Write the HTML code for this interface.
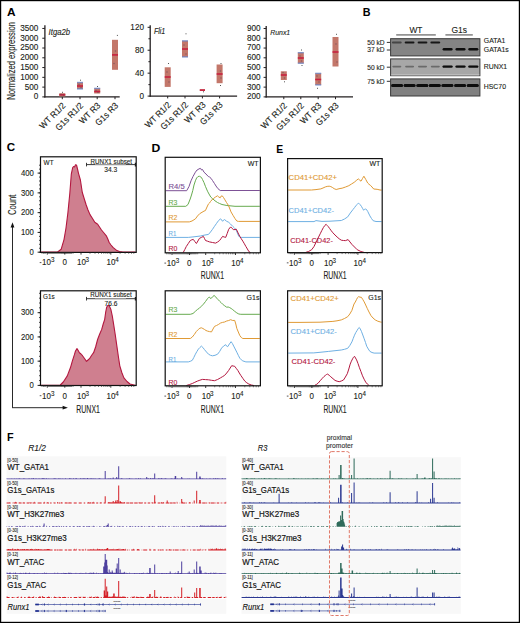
<!DOCTYPE html>
<html><head><meta charset="utf-8"><style>
html,body{margin:0;padding:0;background:#fff;}
svg{display:block;}
text{font-family:"Liberation Sans", sans-serif;}
</style></head><body>
<svg width="520" height="623" viewBox="0 0 520 623">
<defs><filter id="bl" x="-20%" y="-100%" width="140%" height="300%"><feGaussianBlur stdDeviation="0.45"/></filter></defs>
<rect width="520" height="623" fill="#fff"/>
<rect x="0.00" y="0.00" width="520.00" height="1.20" fill="#000"/>
<rect x="0.00" y="0.00" width="1.20" height="623.00" fill="#000"/>
<rect x="518.80" y="0.00" width="1.20" height="623.00" fill="#000"/>
<rect x="0.00" y="621.80" width="520.00" height="1.20" fill="#000"/>
<text x="7.00" y="16.20" font-size="11.8" fill="#000" font-weight="bold" textLength="8.60" lengthAdjust="spacingAndGlyphs">A</text>
<text x="15.50" y="60.80" font-size="10.2" text-anchor="middle" fill="#231f20" stroke="#231f20" stroke-width="0.12" textLength="77.80" lengthAdjust="spacingAndGlyphs" transform="rotate(-90 15.50 60.80)">Normalized expression</text>
<line x1="44.90" y1="25.20" x2="44.90" y2="97.50" stroke="#231f20" stroke-width="1.3"/>
<line x1="44.30" y1="96.90" x2="119.70" y2="96.90" stroke="#231f20" stroke-width="1.2"/>
<line x1="42.30" y1="96.90" x2="44.90" y2="96.90" stroke="#231f20" stroke-width="1"/>
<text x="38.40" y="99.34" font-size="8.2" text-anchor="end" fill="#231f20" stroke="#231f20" stroke-width="0.12">0</text>
<line x1="42.30" y1="87.12" x2="44.90" y2="87.12" stroke="#231f20" stroke-width="1"/>
<text x="38.40" y="89.56" font-size="8.2" text-anchor="end" fill="#231f20" stroke="#231f20" stroke-width="0.12">500</text>
<line x1="42.30" y1="77.34" x2="44.90" y2="77.34" stroke="#231f20" stroke-width="1"/>
<text x="38.40" y="79.78" font-size="8.2" text-anchor="end" fill="#231f20" stroke="#231f20" stroke-width="0.12">1000</text>
<line x1="42.30" y1="67.56" x2="44.90" y2="67.56" stroke="#231f20" stroke-width="1"/>
<text x="38.40" y="70.00" font-size="8.2" text-anchor="end" fill="#231f20" stroke="#231f20" stroke-width="0.12">1500</text>
<line x1="42.30" y1="57.79" x2="44.90" y2="57.79" stroke="#231f20" stroke-width="1"/>
<text x="38.40" y="60.22" font-size="8.2" text-anchor="end" fill="#231f20" stroke="#231f20" stroke-width="0.12">2000</text>
<line x1="42.30" y1="48.01" x2="44.90" y2="48.01" stroke="#231f20" stroke-width="1"/>
<text x="38.40" y="50.44" font-size="8.2" text-anchor="end" fill="#231f20" stroke="#231f20" stroke-width="0.12">2500</text>
<line x1="42.30" y1="38.23" x2="44.90" y2="38.23" stroke="#231f20" stroke-width="1"/>
<text x="38.40" y="40.66" font-size="8.2" text-anchor="end" fill="#231f20" stroke="#231f20" stroke-width="0.12">3000</text>
<line x1="42.30" y1="28.45" x2="44.90" y2="28.45" stroke="#231f20" stroke-width="1"/>
<text x="38.40" y="30.89" font-size="8.2" text-anchor="end" fill="#231f20" stroke="#231f20" stroke-width="0.12">3500</text>
<line x1="62.30" y1="96.90" x2="62.30" y2="99.20" stroke="#231f20" stroke-width="1"/>
<text x="66.10" y="106.30" font-size="8.9" text-anchor="end" fill="#231f20" stroke="#231f20" stroke-width="0.12" textLength="32.70" lengthAdjust="spacingAndGlyphs" transform="rotate(-45 66.10 106.30)">WT R1/2</text>
<line x1="80.00" y1="96.90" x2="80.00" y2="99.20" stroke="#231f20" stroke-width="1"/>
<text x="83.80" y="106.30" font-size="8.9" text-anchor="end" fill="#231f20" stroke="#231f20" stroke-width="0.12" textLength="35.10" lengthAdjust="spacingAndGlyphs" transform="rotate(-45 83.80 106.30)">G1s R1/2</text>
<line x1="97.20" y1="96.90" x2="97.20" y2="99.20" stroke="#231f20" stroke-width="1"/>
<text x="101.00" y="106.30" font-size="8.9" text-anchor="end" fill="#231f20" stroke="#231f20" stroke-width="0.12" textLength="25.70" lengthAdjust="spacingAndGlyphs" transform="rotate(-45 101.00 106.30)">WT R3</text>
<line x1="115.00" y1="96.90" x2="115.00" y2="99.20" stroke="#231f20" stroke-width="1"/>
<text x="118.80" y="106.30" font-size="8.9" text-anchor="end" fill="#231f20" stroke="#231f20" stroke-width="0.12" textLength="28.20" lengthAdjust="spacingAndGlyphs" transform="rotate(-45 118.80 106.30)">G1s R3</text>
<text x="48.60" y="35.10" font-size="8.4" fill="#231f20" stroke="#231f20" stroke-width="0.12" font-style="italic" textLength="21.50" lengthAdjust="spacingAndGlyphs">Itga2b</text>
<rect x="59.30" y="93.20" width="6.00" height="3.20" fill="#c3776a"/>
<rect x="59.30" y="94.00" width="6.00" height="1.60" fill="#c8213f"/>
<rect x="62.00" y="91.80" width="1.00" height="1.00" fill="#555"/>
<rect x="60.40" y="93.90" width="1.20" height="1.20" fill="#6a4a5a" opacity="0.7"/>
<rect x="62.90" y="94.60" width="1.20" height="1.20" fill="#6a4a5a" opacity="0.7"/>
<rect x="77.00" y="82.40" width="6.00" height="6.60" fill="#c3776a"/>
<rect x="77.00" y="81.80" width="6.00" height="1.40" fill="#6a86c6" opacity="0.8"/>
<rect x="77.00" y="88.20" width="6.00" height="1.40" fill="#6a86c6" opacity="0.8"/>
<rect x="77.00" y="85.20" width="6.00" height="1.60" fill="#c8213f"/>
<rect x="80.00" y="79.70" width="1.00" height="1.00" fill="#555"/>
<rect x="78.40" y="83.90" width="1.20" height="1.20" fill="#6a4a5a" opacity="0.7"/>
<rect x="80.40" y="86.90" width="1.20" height="1.20" fill="#6a4a5a" opacity="0.7"/>
<rect x="94.20" y="88.30" width="6.00" height="5.20" fill="#c3776a"/>
<rect x="94.20" y="87.70" width="6.00" height="1.40" fill="#6a86c6" opacity="0.8"/>
<rect x="94.20" y="90.70" width="6.00" height="1.60" fill="#c8213f"/>
<rect x="97.00" y="86.00" width="1.00" height="1.00" fill="#555"/>
<rect x="95.40" y="89.90" width="1.20" height="1.20" fill="#6a4a5a" opacity="0.7"/>
<rect x="97.40" y="91.90" width="1.20" height="1.20" fill="#6a4a5a" opacity="0.7"/>
<rect x="112.00" y="39.80" width="6.00" height="30.00" fill="#c3776a"/>
<rect x="112.00" y="54.10" width="6.00" height="1.60" fill="#c8213f"/>
<rect x="116.90" y="34.90" width="1.00" height="1.00" fill="#555"/>
<rect x="114.90" y="50.40" width="1.20" height="1.20" fill="#6a4a5a" opacity="0.7"/>
<rect x="113.40" y="62.90" width="1.20" height="1.20" fill="#6a4a5a" opacity="0.7"/>
<line x1="150.20" y1="25.20" x2="150.20" y2="96.70" stroke="#231f20" stroke-width="1.3"/>
<line x1="149.60" y1="96.10" x2="237.10" y2="96.10" stroke="#231f20" stroke-width="1.2"/>
<line x1="147.60" y1="96.10" x2="150.20" y2="96.10" stroke="#231f20" stroke-width="1"/>
<text x="144.00" y="98.54" font-size="8.2" text-anchor="end" fill="#231f20" stroke="#231f20" stroke-width="0.12">0</text>
<line x1="147.60" y1="73.17" x2="150.20" y2="73.17" stroke="#231f20" stroke-width="1"/>
<text x="144.00" y="75.60" font-size="8.2" text-anchor="end" fill="#231f20" stroke="#231f20" stroke-width="0.12">40</text>
<line x1="147.60" y1="50.23" x2="150.20" y2="50.23" stroke="#231f20" stroke-width="1"/>
<text x="144.00" y="52.67" font-size="8.2" text-anchor="end" fill="#231f20" stroke="#231f20" stroke-width="0.12">80</text>
<line x1="147.60" y1="27.30" x2="150.20" y2="27.30" stroke="#231f20" stroke-width="1"/>
<text x="144.00" y="29.74" font-size="8.2" text-anchor="end" fill="#231f20" stroke="#231f20" stroke-width="0.12">120</text>
<line x1="148.40" y1="84.63" x2="150.20" y2="84.63" stroke="#231f20" stroke-width="1"/>
<line x1="148.40" y1="61.70" x2="150.20" y2="61.70" stroke="#231f20" stroke-width="1"/>
<line x1="148.40" y1="38.77" x2="150.20" y2="38.77" stroke="#231f20" stroke-width="1"/>
<line x1="167.70" y1="96.10" x2="167.70" y2="98.40" stroke="#231f20" stroke-width="1"/>
<text x="171.50" y="105.50" font-size="8.9" text-anchor="end" fill="#231f20" stroke="#231f20" stroke-width="0.12" textLength="32.70" lengthAdjust="spacingAndGlyphs" transform="rotate(-45 171.50 105.50)">WT R1/2</text>
<line x1="185.00" y1="96.10" x2="185.00" y2="98.40" stroke="#231f20" stroke-width="1"/>
<text x="188.80" y="105.50" font-size="8.9" text-anchor="end" fill="#231f20" stroke="#231f20" stroke-width="0.12" textLength="35.10" lengthAdjust="spacingAndGlyphs" transform="rotate(-45 188.80 105.50)">G1s R1/2</text>
<line x1="202.40" y1="96.10" x2="202.40" y2="98.40" stroke="#231f20" stroke-width="1"/>
<text x="206.20" y="105.50" font-size="8.9" text-anchor="end" fill="#231f20" stroke="#231f20" stroke-width="0.12" textLength="25.70" lengthAdjust="spacingAndGlyphs" transform="rotate(-45 206.20 105.50)">WT R3</text>
<line x1="219.60" y1="96.10" x2="219.60" y2="98.40" stroke="#231f20" stroke-width="1"/>
<text x="223.40" y="105.50" font-size="8.9" text-anchor="end" fill="#231f20" stroke="#231f20" stroke-width="0.12" textLength="28.20" lengthAdjust="spacingAndGlyphs" transform="rotate(-45 223.40 105.50)">G1s R3</text>
<text x="153.90" y="33.90" font-size="8.2" fill="#231f20" stroke="#231f20" stroke-width="0.12" font-style="italic" textLength="11.40" lengthAdjust="spacingAndGlyphs">Fli1</text>
<rect x="164.70" y="67.30" width="6.00" height="19.60" fill="#c3776a"/>
<rect x="164.70" y="76.20" width="6.00" height="1.60" fill="#c8213f"/>
<rect x="168.00" y="63.00" width="1.00" height="1.00" fill="#555"/>
<rect x="166.40" y="71.40" width="1.20" height="1.20" fill="#6a4a5a" opacity="0.7"/>
<rect x="168.40" y="81.40" width="1.20" height="1.20" fill="#6a4a5a" opacity="0.7"/>
<rect x="182.00" y="40.80" width="6.00" height="16.20" fill="#c3776a"/>
<rect x="182.00" y="40.20" width="6.00" height="1.40" fill="#6a86c6" opacity="0.8"/>
<rect x="182.00" y="56.20" width="6.00" height="1.40" fill="#6a86c6" opacity="0.8"/>
<rect x="182.00" y="48.20" width="6.00" height="1.60" fill="#c8213f"/>
<rect x="185.50" y="33.30" width="1.00" height="1.00" fill="#555"/>
<rect x="183.40" y="44.40" width="1.20" height="1.20" fill="#6a4a5a" opacity="0.7"/>
<rect x="185.40" y="53.40" width="1.20" height="1.20" fill="#6a4a5a" opacity="0.7"/>
<rect x="199.80" y="89.30" width="5.20" height="1.60" fill="#c3776a"/>
<rect x="199.80" y="89.30" width="5.20" height="1.60" fill="#c8213f"/>
<rect x="203.00" y="91.30" width="1.00" height="1.00" fill="#555"/>
<rect x="216.60" y="64.50" width="6.00" height="18.70" fill="#c3776a"/>
<rect x="216.60" y="73.20" width="6.00" height="1.60" fill="#c8213f"/>
<rect x="220.00" y="85.00" width="1.00" height="1.00" fill="#555"/>
<rect x="220.50" y="63.00" width="1.00" height="1.00" fill="#555"/>
<rect x="219.90" y="70.40" width="1.20" height="1.20" fill="#6a4a5a" opacity="0.7"/>
<rect x="220.40" y="77.40" width="1.20" height="1.20" fill="#6a4a5a" opacity="0.7"/>
<line x1="266.20" y1="26.00" x2="266.20" y2="97.50" stroke="#231f20" stroke-width="1.3"/>
<line x1="265.60" y1="96.90" x2="353.00" y2="96.90" stroke="#231f20" stroke-width="1.2"/>
<line x1="263.60" y1="96.90" x2="266.20" y2="96.90" stroke="#231f20" stroke-width="1"/>
<text x="260.70" y="99.34" font-size="8.2" text-anchor="end" fill="#231f20" stroke="#231f20" stroke-width="0.12">200</text>
<line x1="263.60" y1="87.13" x2="266.20" y2="87.13" stroke="#231f20" stroke-width="1"/>
<text x="260.70" y="89.56" font-size="8.2" text-anchor="end" fill="#231f20" stroke="#231f20" stroke-width="0.12">300</text>
<line x1="263.60" y1="77.36" x2="266.20" y2="77.36" stroke="#231f20" stroke-width="1"/>
<text x="260.70" y="79.79" font-size="8.2" text-anchor="end" fill="#231f20" stroke="#231f20" stroke-width="0.12">400</text>
<line x1="263.60" y1="67.59" x2="266.20" y2="67.59" stroke="#231f20" stroke-width="1"/>
<text x="260.70" y="70.02" font-size="8.2" text-anchor="end" fill="#231f20" stroke="#231f20" stroke-width="0.12">500</text>
<line x1="263.60" y1="57.81" x2="266.20" y2="57.81" stroke="#231f20" stroke-width="1"/>
<text x="260.70" y="60.25" font-size="8.2" text-anchor="end" fill="#231f20" stroke="#231f20" stroke-width="0.12">600</text>
<line x1="263.60" y1="48.04" x2="266.20" y2="48.04" stroke="#231f20" stroke-width="1"/>
<text x="260.70" y="50.48" font-size="8.2" text-anchor="end" fill="#231f20" stroke="#231f20" stroke-width="0.12">700</text>
<line x1="263.60" y1="38.27" x2="266.20" y2="38.27" stroke="#231f20" stroke-width="1"/>
<text x="260.70" y="40.71" font-size="8.2" text-anchor="end" fill="#231f20" stroke="#231f20" stroke-width="0.12">800</text>
<line x1="263.60" y1="28.50" x2="266.20" y2="28.50" stroke="#231f20" stroke-width="1"/>
<text x="260.70" y="30.94" font-size="8.2" text-anchor="end" fill="#231f20" stroke="#231f20" stroke-width="0.12">900</text>
<line x1="283.80" y1="96.90" x2="283.80" y2="99.20" stroke="#231f20" stroke-width="1"/>
<text x="287.60" y="106.30" font-size="8.9" text-anchor="end" fill="#231f20" stroke="#231f20" stroke-width="0.12" textLength="32.70" lengthAdjust="spacingAndGlyphs" transform="rotate(-45 287.60 106.30)">WT R1/2</text>
<line x1="300.80" y1="96.90" x2="300.80" y2="99.20" stroke="#231f20" stroke-width="1"/>
<text x="304.60" y="106.30" font-size="8.9" text-anchor="end" fill="#231f20" stroke="#231f20" stroke-width="0.12" textLength="35.10" lengthAdjust="spacingAndGlyphs" transform="rotate(-45 304.60 106.30)">G1s R1/2</text>
<line x1="318.20" y1="96.90" x2="318.20" y2="99.20" stroke="#231f20" stroke-width="1"/>
<text x="322.00" y="106.30" font-size="8.9" text-anchor="end" fill="#231f20" stroke="#231f20" stroke-width="0.12" textLength="25.70" lengthAdjust="spacingAndGlyphs" transform="rotate(-45 322.00 106.30)">WT R3</text>
<line x1="335.50" y1="96.90" x2="335.50" y2="99.20" stroke="#231f20" stroke-width="1"/>
<text x="339.30" y="106.30" font-size="8.9" text-anchor="end" fill="#231f20" stroke="#231f20" stroke-width="0.12" textLength="28.20" lengthAdjust="spacingAndGlyphs" transform="rotate(-45 339.30 106.30)">G1s R3</text>
<text x="270.20" y="34.60" font-size="8.0" fill="#231f20" stroke="#231f20" stroke-width="0.12" font-style="italic" textLength="20.00" lengthAdjust="spacingAndGlyphs">Runx1</text>
<rect x="280.80" y="71.30" width="6.00" height="8.70" fill="#c3776a"/>
<rect x="280.80" y="74.20" width="6.00" height="1.60" fill="#c8213f"/>
<rect x="284.00" y="81.30" width="1.00" height="1.00" fill="#555"/>
<rect x="282.40" y="71.90" width="1.20" height="1.20" fill="#6a4a5a" opacity="0.7"/>
<rect x="283.90" y="77.40" width="1.20" height="1.20" fill="#6a4a5a" opacity="0.7"/>
<rect x="297.80" y="52.60" width="6.00" height="10.70" fill="#c3776a"/>
<rect x="297.80" y="52.00" width="6.00" height="1.40" fill="#6a86c6" opacity="0.8"/>
<rect x="297.80" y="62.50" width="6.00" height="1.40" fill="#6a86c6" opacity="0.8"/>
<rect x="297.80" y="57.20" width="6.00" height="1.60" fill="#c8213f"/>
<rect x="301.00" y="49.50" width="1.00" height="1.00" fill="#555"/>
<rect x="301.50" y="65.00" width="1.00" height="1.00" fill="#555"/>
<rect x="299.40" y="55.40" width="1.20" height="1.20" fill="#6a4a5a" opacity="0.7"/>
<rect x="300.90" y="60.40" width="1.20" height="1.20" fill="#6a4a5a" opacity="0.7"/>
<rect x="315.20" y="73.30" width="6.00" height="11.70" fill="#c3776a"/>
<rect x="315.20" y="72.70" width="6.00" height="1.40" fill="#6a86c6" opacity="0.8"/>
<rect x="315.20" y="84.20" width="6.00" height="1.40" fill="#6a86c6" opacity="0.8"/>
<rect x="315.20" y="78.70" width="6.00" height="1.60" fill="#c8213f"/>
<rect x="317.00" y="87.80" width="1.00" height="1.00" fill="#555"/>
<rect x="316.40" y="75.40" width="1.20" height="1.20" fill="#6a4a5a" opacity="0.7"/>
<rect x="318.40" y="81.40" width="1.20" height="1.20" fill="#6a4a5a" opacity="0.7"/>
<rect x="332.50" y="37.00" width="6.00" height="29.50" fill="#c3776a"/>
<rect x="332.50" y="51.20" width="6.00" height="1.60" fill="#c8213f"/>
<rect x="336.00" y="33.80" width="1.00" height="1.00" fill="#555"/>
<rect x="335.40" y="43.40" width="1.20" height="1.20" fill="#6a4a5a" opacity="0.7"/>
<rect x="336.40" y="61.40" width="1.20" height="1.20" fill="#6a4a5a" opacity="0.7"/>
<text x="362.80" y="16.30" font-size="11.8" fill="#000" font-weight="bold" textLength="7.80" lengthAdjust="spacingAndGlyphs">B</text>
<text x="415.90" y="33.20" font-size="8.6" text-anchor="middle" fill="#231f20" stroke="#231f20" stroke-width="0.12" textLength="13.00" lengthAdjust="spacingAndGlyphs">WT</text>
<text x="459.30" y="33.20" font-size="8.6" text-anchor="middle" fill="#231f20" stroke="#231f20" stroke-width="0.12" textLength="15.60" lengthAdjust="spacingAndGlyphs">G1s</text>
<rect x="396.20" y="34.20" width="39.60" height="1.40" fill="#7a7a7a"/>
<rect x="445.40" y="34.20" width="27.40" height="1.40" fill="#7a7a7a"/>
<rect x="390.6" y="38.70" width="89.3" height="17.20" fill="#848484" stroke="#3a3a3a" stroke-width="1"/>
<rect x="390.6" y="58.90" width="89.3" height="16.80" fill="#a7a7a7" stroke="#3a3a3a" stroke-width="1"/>
<rect x="390.6" y="78.90" width="89.3" height="17.10" fill="#808080" stroke="#3a3a3a" stroke-width="1"/>
<text x="384.60" y="44.83" font-size="6.8" text-anchor="end" fill="#231f20" stroke="#231f20" stroke-width="0.12" textLength="17.30" lengthAdjust="spacingAndGlyphs">50 kD</text>
<line x1="386.80" y1="42.40" x2="390.30" y2="42.40" stroke="#333" stroke-width="1"/>
<text x="384.60" y="52.43" font-size="6.8" text-anchor="end" fill="#231f20" stroke="#231f20" stroke-width="0.12" textLength="17.30" lengthAdjust="spacingAndGlyphs">37 kD</text>
<line x1="386.80" y1="50.00" x2="390.30" y2="50.00" stroke="#333" stroke-width="1"/>
<text x="384.60" y="69.63" font-size="6.8" text-anchor="end" fill="#231f20" stroke="#231f20" stroke-width="0.12" textLength="17.30" lengthAdjust="spacingAndGlyphs">50 kD</text>
<line x1="386.80" y1="67.20" x2="390.30" y2="67.20" stroke="#333" stroke-width="1"/>
<text x="384.60" y="83.73" font-size="6.8" text-anchor="end" fill="#231f20" stroke="#231f20" stroke-width="0.12" textLength="17.30" lengthAdjust="spacingAndGlyphs">75 kD</text>
<line x1="386.80" y1="81.30" x2="390.30" y2="81.30" stroke="#333" stroke-width="1"/>
<text x="483.80" y="43.07" font-size="6.9" fill="#231f20" stroke="#231f20" stroke-width="0.12">GATA1</text>
<text x="483.80" y="51.87" font-size="6.9" fill="#231f20" stroke="#231f20" stroke-width="0.12">GATA1s</text>
<text x="483.80" y="68.77" font-size="6.9" fill="#231f20" stroke="#231f20" stroke-width="0.12">RUNX1</text>
<text x="483.80" y="88.97" font-size="6.9" fill="#231f20" stroke="#231f20" stroke-width="0.12">HSC70</text>
<rect x="391.90" y="41.50" width="9.80" height="2.00" rx="1.00" ry="1.00" fill="#454545" opacity="1.0" filter="url(#bl)"/>
<rect x="404.70" y="41.50" width="9.80" height="2.00" rx="1.00" ry="1.00" fill="#151515" opacity="1.0" filter="url(#bl)"/>
<rect x="417.60" y="41.50" width="9.80" height="2.00" rx="1.00" ry="1.00" fill="#151515" opacity="1.0" filter="url(#bl)"/>
<rect x="430.40" y="41.50" width="9.80" height="2.00" rx="1.00" ry="1.00" fill="#151515" opacity="1.0" filter="url(#bl)"/>
<rect x="442.60" y="48.05" width="10.00" height="2.50" rx="1.25" ry="1.25" fill="#0c0c0c" opacity="1.0" filter="url(#bl)"/>
<rect x="455.50" y="48.05" width="10.00" height="2.50" rx="1.25" ry="1.25" fill="#0c0c0c" opacity="1.0" filter="url(#bl)"/>
<rect x="468.30" y="48.05" width="10.00" height="2.50" rx="1.25" ry="1.25" fill="#0c0c0c" opacity="1.0" filter="url(#bl)"/>
<rect x="392.30" y="65.80" width="9.00" height="1.60" rx="0.80" ry="0.80" fill="#6a6a6a" opacity="1.0" filter="url(#bl)"/>
<rect x="405.10" y="65.80" width="9.00" height="1.60" rx="0.80" ry="0.80" fill="#6a6a6a" opacity="1.0" filter="url(#bl)"/>
<rect x="418.00" y="65.80" width="9.00" height="1.60" rx="0.80" ry="0.80" fill="#6a6a6a" opacity="1.0" filter="url(#bl)"/>
<rect x="430.80" y="65.80" width="9.00" height="1.60" rx="0.80" ry="0.80" fill="#6a6a6a" opacity="1.0" filter="url(#bl)"/>
<rect x="442.50" y="65.40" width="10.20" height="2.40" rx="1.20" ry="1.20" fill="#0a0a0a" opacity="1.0" filter="url(#bl)"/>
<rect x="455.40" y="65.40" width="10.20" height="2.40" rx="1.20" ry="1.20" fill="#0a0a0a" opacity="1.0" filter="url(#bl)"/>
<rect x="468.20" y="65.40" width="10.20" height="2.40" rx="1.20" ry="1.20" fill="#0a0a0a" opacity="1.0" filter="url(#bl)"/>
<rect x="391.10" y="74.60" width="88.30" height="0.80" fill="#d8d8d8"/>
<rect x="391.10" y="83.90" width="12.00" height="3.20" rx="1.30" ry="1.60" fill="#080808" opacity="1.0" filter="url(#bl)"/>
<rect x="403.60" y="83.90" width="12.00" height="3.20" rx="1.30" ry="1.60" fill="#080808" opacity="1.0" filter="url(#bl)"/>
<rect x="416.30" y="83.90" width="12.00" height="3.20" rx="1.30" ry="1.60" fill="#080808" opacity="1.0" filter="url(#bl)"/>
<rect x="428.80" y="83.90" width="12.00" height="3.20" rx="1.30" ry="1.60" fill="#080808" opacity="1.0" filter="url(#bl)"/>
<rect x="441.40" y="83.90" width="12.00" height="3.20" rx="1.30" ry="1.60" fill="#080808" opacity="1.0" filter="url(#bl)"/>
<rect x="454.10" y="83.90" width="12.00" height="3.20" rx="1.30" ry="1.60" fill="#080808" opacity="1.0" filter="url(#bl)"/>
<rect x="466.80" y="83.90" width="12.00" height="3.20" rx="1.30" ry="1.60" fill="#080808" opacity="1.0" filter="url(#bl)"/>
<text x="6.70" y="151.40" font-size="11.8" fill="#000" font-weight="bold" textLength="8.40" lengthAdjust="spacingAndGlyphs">C</text>
<path d="M41.10 252.10 L57.30 252.10 L61.20 249.20 L64.00 239.60 L66.00 228.00 L67.90 212.70 L69.80 193.50 L71.30 174.20 L72.70 167.50 L73.60 166.50 L74.60 166.90 L75.50 164.80 L76.50 165.00 L77.50 169.00 L78.50 173.30 L80.40 180.00 L82.30 192.50 L84.30 199.00 L86.20 205.00 L88.00 210.00 L90.00 214.60 L92.50 218.50 L94.80 222.30 L97.70 224.20 L99.50 227.00 L101.50 230.00 L104.00 233.00 L106.30 235.80 L107.80 239.00 L109.20 242.50 L111.00 245.00 L113.00 247.30 L116.90 250.60 L119.50 251.60 L122.70 252.10 L135.60 252.10" stroke="#b3173f" stroke-width="1.1" fill="#cf7f8f" stroke-linejoin="round"/>
<line x1="37.60" y1="252.20" x2="40.50" y2="252.20" stroke="#222" stroke-width="1"/>
<text x="33.90" y="254.91" font-size="8.7" text-anchor="end" fill="#231f20" stroke="#231f20" stroke-width="0.12" textLength="4.30" lengthAdjust="spacingAndGlyphs">0</text>
<line x1="37.60" y1="232.42" x2="40.50" y2="232.42" stroke="#222" stroke-width="1"/>
<text x="33.90" y="235.14" font-size="8.7" text-anchor="end" fill="#231f20" stroke="#231f20" stroke-width="0.12" textLength="12.90" lengthAdjust="spacingAndGlyphs">100</text>
<line x1="37.60" y1="212.65" x2="40.50" y2="212.65" stroke="#222" stroke-width="1"/>
<text x="33.90" y="215.36" font-size="8.7" text-anchor="end" fill="#231f20" stroke="#231f20" stroke-width="0.12" textLength="12.90" lengthAdjust="spacingAndGlyphs">200</text>
<line x1="37.60" y1="192.88" x2="40.50" y2="192.88" stroke="#222" stroke-width="1"/>
<text x="33.90" y="195.59" font-size="8.7" text-anchor="end" fill="#231f20" stroke="#231f20" stroke-width="0.12" textLength="12.90" lengthAdjust="spacingAndGlyphs">300</text>
<line x1="37.60" y1="173.10" x2="40.50" y2="173.10" stroke="#222" stroke-width="1"/>
<text x="33.90" y="175.81" font-size="8.7" text-anchor="end" fill="#231f20" stroke="#231f20" stroke-width="0.12" textLength="12.90" lengthAdjust="spacingAndGlyphs">400</text>
<line x1="39.00" y1="252.20" x2="40.50" y2="252.20" stroke="#222" stroke-width="0.8"/>
<line x1="39.00" y1="248.24" x2="40.50" y2="248.24" stroke="#222" stroke-width="0.8"/>
<line x1="39.00" y1="244.29" x2="40.50" y2="244.29" stroke="#222" stroke-width="0.8"/>
<line x1="39.00" y1="240.33" x2="40.50" y2="240.33" stroke="#222" stroke-width="0.8"/>
<line x1="39.00" y1="236.38" x2="40.50" y2="236.38" stroke="#222" stroke-width="0.8"/>
<line x1="39.00" y1="232.42" x2="40.50" y2="232.42" stroke="#222" stroke-width="0.8"/>
<line x1="39.00" y1="228.47" x2="40.50" y2="228.47" stroke="#222" stroke-width="0.8"/>
<line x1="39.00" y1="224.51" x2="40.50" y2="224.51" stroke="#222" stroke-width="0.8"/>
<line x1="39.00" y1="220.56" x2="40.50" y2="220.56" stroke="#222" stroke-width="0.8"/>
<line x1="39.00" y1="216.60" x2="40.50" y2="216.60" stroke="#222" stroke-width="0.8"/>
<line x1="39.00" y1="212.65" x2="40.50" y2="212.65" stroke="#222" stroke-width="0.8"/>
<line x1="39.00" y1="208.69" x2="40.50" y2="208.69" stroke="#222" stroke-width="0.8"/>
<line x1="39.00" y1="204.74" x2="40.50" y2="204.74" stroke="#222" stroke-width="0.8"/>
<line x1="39.00" y1="200.78" x2="40.50" y2="200.78" stroke="#222" stroke-width="0.8"/>
<line x1="39.00" y1="196.83" x2="40.50" y2="196.83" stroke="#222" stroke-width="0.8"/>
<line x1="39.00" y1="192.88" x2="40.50" y2="192.88" stroke="#222" stroke-width="0.8"/>
<line x1="39.00" y1="188.92" x2="40.50" y2="188.92" stroke="#222" stroke-width="0.8"/>
<line x1="39.00" y1="184.96" x2="40.50" y2="184.96" stroke="#222" stroke-width="0.8"/>
<line x1="39.00" y1="181.01" x2="40.50" y2="181.01" stroke="#222" stroke-width="0.8"/>
<line x1="39.00" y1="177.06" x2="40.50" y2="177.06" stroke="#222" stroke-width="0.8"/>
<line x1="39.00" y1="173.10" x2="40.50" y2="173.10" stroke="#222" stroke-width="0.8"/>
<line x1="39.00" y1="169.14" x2="40.50" y2="169.14" stroke="#222" stroke-width="0.8"/>
<line x1="39.00" y1="165.19" x2="40.50" y2="165.19" stroke="#222" stroke-width="0.8"/>
<text x="43.60" y="165.26" font-size="6.6" fill="#231f20" stroke="#231f20" stroke-width="0.12" textLength="10.00" lengthAdjust="spacingAndGlyphs">WT</text>
<line x1="86.50" y1="164.60" x2="135.60" y2="164.60" stroke="#222" stroke-width="0.9"/>
<line x1="95.00" y1="164.60" x2="126.00" y2="164.60" stroke="#aaa" stroke-width="0.9"/>
<line x1="86.50" y1="162.80" x2="86.50" y2="166.40" stroke="#222" stroke-width="0.9"/>
<line x1="135.40" y1="162.80" x2="135.40" y2="166.40" stroke="#222" stroke-width="1.2"/>
<text x="111.30" y="164.29" font-size="6.4" text-anchor="middle" fill="#231f20" stroke="#231f20" stroke-width="0.12" textLength="41.50" lengthAdjust="spacingAndGlyphs">RUNX1 subset</text>
<text x="110.70" y="171.76" font-size="6.6" text-anchor="middle" fill="#231f20" stroke="#231f20" stroke-width="0.12">34.3</text>
<rect x="40.50" y="156.80" width="95.70" height="95.60" fill="none" stroke="#111" stroke-width="1.2"/>
<line x1="47.30" y1="252.40" x2="47.30" y2="254.60" stroke="#222" stroke-width="0.9"/>
<line x1="64.80" y1="252.40" x2="64.80" y2="254.60" stroke="#222" stroke-width="0.9"/>
<line x1="81.00" y1="252.40" x2="81.00" y2="254.60" stroke="#222" stroke-width="0.9"/>
<line x1="110.80" y1="252.40" x2="110.80" y2="254.60" stroke="#222" stroke-width="0.9"/>
<path d="M42.00 252.40v1.5M43.50 252.40v1.5M44.70 252.40v1.5M45.80 252.40v1.5M48.50 252.40v1.5M49.50 252.40v1.5M50.50 252.40v1.5M51.50 252.40v1.5M52.50 252.40v1.5M53.50 252.40v1.5M54.50 252.40v1.5M55.50 252.40v1.5M56.50 252.40v1.5M57.50 252.40v1.5M58.50 252.40v1.5M59.50 252.40v1.5M60.50 252.40v1.5M61.50 252.40v1.5M62.30 252.40v1.5M63.00 252.40v1.5M63.70 252.40v1.5M64.50 252.40v1.5M65.20 252.40v1.5M65.90 252.40v1.5M66.60 252.40v1.5M67.50 252.40v1.5M68.50 252.40v1.5M69.50 252.40v1.5M70.50 252.40v1.5M71.50 252.40v1.5M73.00 252.40v1.5M90.00 252.40v1.5M95.00 252.40v1.5M98.50 252.40v1.5M101.50 252.40v1.5M103.80 252.40v1.5M105.90 252.40v1.5M107.70 252.40v1.5M109.30 252.40v1.5M120.10 252.40v1.5M125.10 252.40v1.5M128.70 252.40v1.5M131.50 252.40v1.5M133.80 252.40v1.5" stroke="#333" stroke-width="0.6" fill="none"/>
<rect x="39.70" y="262.30" width="1.70" height="0.75" fill="#231f20"/>
<text transform="translate(42.00 265.40) scale(0.95 1)" font-size="8.4" fill="#231f20" stroke="#231f20" stroke-width="0.12">10</text>
<text transform="translate(51.00 262.40) scale(0.95 1)" font-size="6.6" fill="#231f20" stroke="#231f20" stroke-width="0.12">3</text>
<text transform="translate(64.60 265.40) scale(0.95 1)" font-size="8.4" fill="#231f20" stroke="#231f20" stroke-width="0.12" text-anchor="middle">0</text>
<text transform="translate(77.00 265.40) scale(0.95 1)" font-size="8.4" fill="#231f20" stroke="#231f20" stroke-width="0.12">10</text>
<text transform="translate(85.40 262.40) scale(0.95 1)" font-size="6.6" fill="#231f20" stroke="#231f20" stroke-width="0.12">3</text>
<text transform="translate(106.50 265.40) scale(0.95 1)" font-size="8.4" fill="#231f20" stroke="#231f20" stroke-width="0.12">10</text>
<text transform="translate(115.30 262.40) scale(0.95 1)" font-size="6.6" fill="#231f20" stroke="#231f20" stroke-width="0.12">4</text>
<path d="M41.10 385.30 L60.30 385.00 L63.30 382.00 L67.30 375.90 L70.40 367.80 L72.40 360.80 L74.40 354.70 L75.50 351.00 L77.00 348.60 L78.20 350.50 L79.40 352.70 L81.00 354.00 L82.50 355.70 L84.50 358.50 L86.50 361.40 L88.00 360.00 L89.50 358.70 L91.50 355.50 L93.60 352.70 L95.60 347.00 L97.60 339.50 L99.70 334.00 L101.70 329.40 L103.20 324.00 L104.70 319.30 L105.70 312.00 L106.70 307.20 L107.70 305.50 L108.70 305.20 L109.80 307.00 L110.80 309.20 L112.30 316.00 L113.80 325.40 L115.30 335.00 L116.80 345.60 L118.30 356.00 L119.80 365.80 L121.80 372.50 L123.90 377.90 L127.00 381.50 L130.00 384.00 L135.00 385.20 L135.60 385.30" stroke="#b3173f" stroke-width="1.1" fill="#cf7f8f" stroke-linejoin="round"/>
<line x1="37.60" y1="385.40" x2="40.50" y2="385.40" stroke="#222" stroke-width="1"/>
<text x="33.90" y="388.11" font-size="8.7" text-anchor="end" fill="#231f20" stroke="#231f20" stroke-width="0.12" textLength="4.30" lengthAdjust="spacingAndGlyphs">0</text>
<line x1="37.60" y1="361.17" x2="40.50" y2="361.17" stroke="#222" stroke-width="1"/>
<text x="33.90" y="363.88" font-size="8.7" text-anchor="end" fill="#231f20" stroke="#231f20" stroke-width="0.12" textLength="12.90" lengthAdjust="spacingAndGlyphs">100</text>
<line x1="37.60" y1="336.93" x2="40.50" y2="336.93" stroke="#222" stroke-width="1"/>
<text x="33.90" y="339.65" font-size="8.7" text-anchor="end" fill="#231f20" stroke="#231f20" stroke-width="0.12" textLength="12.90" lengthAdjust="spacingAndGlyphs">200</text>
<line x1="37.60" y1="312.70" x2="40.50" y2="312.70" stroke="#222" stroke-width="1"/>
<text x="33.90" y="315.41" font-size="8.7" text-anchor="end" fill="#231f20" stroke="#231f20" stroke-width="0.12" textLength="12.90" lengthAdjust="spacingAndGlyphs">300</text>
<line x1="39.00" y1="385.40" x2="40.50" y2="385.40" stroke="#222" stroke-width="0.8"/>
<line x1="39.00" y1="380.55" x2="40.50" y2="380.55" stroke="#222" stroke-width="0.8"/>
<line x1="39.00" y1="375.71" x2="40.50" y2="375.71" stroke="#222" stroke-width="0.8"/>
<line x1="39.00" y1="370.86" x2="40.50" y2="370.86" stroke="#222" stroke-width="0.8"/>
<line x1="39.00" y1="366.01" x2="40.50" y2="366.01" stroke="#222" stroke-width="0.8"/>
<line x1="39.00" y1="361.17" x2="40.50" y2="361.17" stroke="#222" stroke-width="0.8"/>
<line x1="39.00" y1="356.32" x2="40.50" y2="356.32" stroke="#222" stroke-width="0.8"/>
<line x1="39.00" y1="351.47" x2="40.50" y2="351.47" stroke="#222" stroke-width="0.8"/>
<line x1="39.00" y1="346.63" x2="40.50" y2="346.63" stroke="#222" stroke-width="0.8"/>
<line x1="39.00" y1="341.78" x2="40.50" y2="341.78" stroke="#222" stroke-width="0.8"/>
<line x1="39.00" y1="336.93" x2="40.50" y2="336.93" stroke="#222" stroke-width="0.8"/>
<line x1="39.00" y1="332.09" x2="40.50" y2="332.09" stroke="#222" stroke-width="0.8"/>
<line x1="39.00" y1="327.24" x2="40.50" y2="327.24" stroke="#222" stroke-width="0.8"/>
<line x1="39.00" y1="322.39" x2="40.50" y2="322.39" stroke="#222" stroke-width="0.8"/>
<line x1="39.00" y1="317.55" x2="40.50" y2="317.55" stroke="#222" stroke-width="0.8"/>
<line x1="39.00" y1="312.70" x2="40.50" y2="312.70" stroke="#222" stroke-width="0.8"/>
<line x1="39.00" y1="307.85" x2="40.50" y2="307.85" stroke="#222" stroke-width="0.8"/>
<line x1="39.00" y1="303.01" x2="40.50" y2="303.01" stroke="#222" stroke-width="0.8"/>
<line x1="39.00" y1="298.16" x2="40.50" y2="298.16" stroke="#222" stroke-width="0.8"/>
<line x1="39.00" y1="293.31" x2="40.50" y2="293.31" stroke="#222" stroke-width="0.8"/>
<text x="43.00" y="299.46" font-size="6.6" fill="#231f20" stroke="#231f20" stroke-width="0.12" textLength="11.60" lengthAdjust="spacingAndGlyphs">G1s</text>
<line x1="86.50" y1="298.70" x2="135.60" y2="298.70" stroke="#222" stroke-width="0.9"/>
<line x1="95.00" y1="298.70" x2="126.00" y2="298.70" stroke="#aaa" stroke-width="0.9"/>
<line x1="86.50" y1="296.90" x2="86.50" y2="300.50" stroke="#222" stroke-width="0.9"/>
<line x1="135.40" y1="296.90" x2="135.40" y2="300.50" stroke="#222" stroke-width="1.2"/>
<text x="111.00" y="297.39" font-size="6.4" text-anchor="middle" fill="#231f20" stroke="#231f20" stroke-width="0.12" textLength="41.50" lengthAdjust="spacingAndGlyphs">RUNX1 subset</text>
<text x="111.00" y="305.96" font-size="6.6" text-anchor="middle" fill="#231f20" stroke="#231f20" stroke-width="0.12">76.6</text>
<rect x="40.50" y="290.80" width="95.70" height="94.70" fill="none" stroke="#111" stroke-width="1.2"/>
<line x1="47.30" y1="385.50" x2="47.30" y2="387.70" stroke="#222" stroke-width="0.9"/>
<line x1="64.80" y1="385.50" x2="64.80" y2="387.70" stroke="#222" stroke-width="0.9"/>
<line x1="81.00" y1="385.50" x2="81.00" y2="387.70" stroke="#222" stroke-width="0.9"/>
<line x1="110.80" y1="385.50" x2="110.80" y2="387.70" stroke="#222" stroke-width="0.9"/>
<path d="M42.00 385.50v1.5M43.50 385.50v1.5M44.70 385.50v1.5M45.80 385.50v1.5M48.50 385.50v1.5M49.50 385.50v1.5M50.50 385.50v1.5M51.50 385.50v1.5M52.50 385.50v1.5M53.50 385.50v1.5M54.50 385.50v1.5M55.50 385.50v1.5M56.50 385.50v1.5M57.50 385.50v1.5M58.50 385.50v1.5M59.50 385.50v1.5M60.50 385.50v1.5M61.50 385.50v1.5M62.30 385.50v1.5M63.00 385.50v1.5M63.70 385.50v1.5M64.50 385.50v1.5M65.20 385.50v1.5M65.90 385.50v1.5M66.60 385.50v1.5M67.50 385.50v1.5M68.50 385.50v1.5M69.50 385.50v1.5M70.50 385.50v1.5M71.50 385.50v1.5M73.00 385.50v1.5M90.00 385.50v1.5M95.00 385.50v1.5M98.50 385.50v1.5M101.50 385.50v1.5M103.80 385.50v1.5M105.90 385.50v1.5M107.70 385.50v1.5M109.30 385.50v1.5M120.10 385.50v1.5M125.10 385.50v1.5M128.70 385.50v1.5M131.50 385.50v1.5M133.80 385.50v1.5" stroke="#333" stroke-width="0.6" fill="none"/>
<rect x="39.70" y="395.40" width="1.70" height="0.75" fill="#231f20"/>
<text transform="translate(42.00 398.50) scale(0.95 1)" font-size="8.4" fill="#231f20" stroke="#231f20" stroke-width="0.12">10</text>
<text transform="translate(51.00 395.50) scale(0.95 1)" font-size="6.6" fill="#231f20" stroke="#231f20" stroke-width="0.12">3</text>
<text transform="translate(64.60 398.50) scale(0.95 1)" font-size="8.4" fill="#231f20" stroke="#231f20" stroke-width="0.12" text-anchor="middle">0</text>
<text transform="translate(77.00 398.50) scale(0.95 1)" font-size="8.4" fill="#231f20" stroke="#231f20" stroke-width="0.12">10</text>
<text transform="translate(85.40 395.50) scale(0.95 1)" font-size="6.6" fill="#231f20" stroke="#231f20" stroke-width="0.12">3</text>
<text transform="translate(106.50 398.50) scale(0.95 1)" font-size="8.4" fill="#231f20" stroke="#231f20" stroke-width="0.12">10</text>
<text transform="translate(115.30 395.50) scale(0.95 1)" font-size="6.6" fill="#231f20" stroke="#231f20" stroke-width="0.12">4</text>
<text x="15.90" y="204.80" font-size="10.0" text-anchor="middle" fill="#231f20" stroke="#231f20" stroke-width="0.12" textLength="20.60" lengthAdjust="spacingAndGlyphs" transform="rotate(-90 15.90 204.80)">Count</text>
<line x1="12.50" y1="226.00" x2="12.50" y2="407.70" stroke="#111" stroke-width="0.9"/>
<line x1="12.10" y1="407.70" x2="63.00" y2="407.70" stroke="#111" stroke-width="0.9"/>
<path d="M12.5 222.3 L10.6 227.6 L14.4 227.6 Z" fill="#111"/>
<path d="M67.9 407.7 L62.6 405.8 L62.6 409.6 Z" fill="#111"/>
<text x="76.30" y="412.89" font-size="10.3" fill="#231f20" stroke="#231f20" stroke-width="0.12" textLength="23.60" lengthAdjust="spacingAndGlyphs">RUNX1</text>
<text x="151.60" y="151.60" font-size="11.8" fill="#000" font-weight="bold" textLength="8.80" lengthAdjust="spacingAndGlyphs">D</text>
<path d="M165.80 190.70 L186.70 190.70 L189.00 186.50 L191.00 180.80 L193.00 176.50 L195.40 172.20 L197.00 170.00 L198.00 169.60 L199.00 168.80 L200.60 168.40 L201.50 170.00 L202.50 169.50 L204.00 172.20 L206.00 174.00 L208.30 176.50 L209.50 177.00 L211.00 178.30 L212.50 180.50 L214.40 183.40 L216.00 186.00 L217.90 188.60 L220.20 190.50 L259.80 190.50" stroke="#7d5196" stroke-width="1.0" fill="none" stroke-linejoin="round"/>
<path d="M165.80 206.30 L185.80 206.30 L188.00 204.50 L190.20 199.00 L191.50 195.00 L192.80 190.40 L194.00 185.00 L195.40 180.80 L196.60 178.00 L198.00 176.50 L199.50 176.30 L201.40 177.40 L202.50 179.50 L204.00 182.60 L205.40 186.30 L207.50 191.20 L209.00 194.00 L210.80 197.10 L212.70 198.80 L215.00 200.80 L217.50 202.50 L219.60 203.50 L222.00 204.50 L226.90 205.50 L235.00 206.30 L259.80 206.30" stroke="#67ab4f" stroke-width="1.0" fill="none" stroke-linejoin="round"/>
<path d="M165.80 221.90 L189.30 221.90 L192.00 221.00 L195.40 218.90 L197.50 216.00 L199.70 213.70 L202.00 212.30 L204.00 211.10 L205.40 210.60 L207.00 207.00 L208.30 204.20 L209.40 203.20 L210.50 201.50 L212.70 199.00 L213.50 198.50 L215.50 197.00 L217.50 195.80 L218.80 197.00 L220.20 197.80 L221.30 196.00 L222.20 195.80 L223.50 197.50 L224.90 199.80 L226.50 202.50 L228.30 205.20 L229.50 208.00 L231.00 211.90 L233.00 215.30 L235.00 218.60 L236.80 221.00 L238.50 221.40 L259.80 221.40" stroke="#e09a35" stroke-width="1.0" fill="none" stroke-linejoin="round"/>
<path d="M165.80 237.40 L188.30 237.40 L194.00 236.80 L200.40 236.00 L204.00 235.20 L208.50 234.40 L210.50 232.00 L212.50 229.30 L214.50 226.30 L216.60 223.30 L218.60 220.50 L220.60 218.80 L221.60 220.00 L222.60 221.30 L223.60 220.00 L224.60 219.60 L226.50 221.20 L228.70 222.30 L230.50 224.00 L232.70 226.30 L234.30 227.80 L235.80 229.30 L237.40 233.00 L238.80 236.40 L240.80 237.40 L259.80 237.40" stroke="#6fb0e3" stroke-width="1.0" fill="none" stroke-linejoin="round"/>
<path d="M183.20 252.60 L184.80 249.50 L186.30 246.50 L188.30 243.50 L190.30 240.50 L191.80 239.80 L193.30 239.40 L194.80 241.50 L196.40 243.50 L197.90 241.00 L199.40 238.40 L201.40 237.40 L203.40 236.40 L204.50 238.50 L205.50 240.50 L207.50 241.20 L209.50 241.90 L212.50 242.50 L215.60 243.10 L217.60 242.00 L219.60 240.50 L221.10 238.50 L222.60 236.40 L224.20 237.00 L225.70 237.40 L227.20 233.50 L228.70 229.30 L229.70 228.00 L230.70 226.90 L232.20 228.50 L233.70 229.70 L235.00 229.50 L236.40 229.30 L238.10 233.00 L239.80 236.40 L241.30 238.80 L242.80 241.10 L244.40 243.80 L245.90 246.50 L247.40 249.00 L248.90 251.60 L250.50 252.60" stroke="#b3173f" stroke-width="1.0" fill="none" stroke-linejoin="round"/>
<text x="168.50" y="188.90" font-size="8.1" fill="#7d5196" stroke="#7d5196" stroke-width="0.12" textLength="16.20" lengthAdjust="spacingAndGlyphs">R4/5</text>
<text x="168.50" y="204.90" font-size="8.1" fill="#67ab4f" stroke="#67ab4f" stroke-width="0.12" textLength="8.80" lengthAdjust="spacingAndGlyphs">R3</text>
<text x="168.50" y="220.40" font-size="8.1" fill="#e09a35" stroke="#e09a35" stroke-width="0.12" textLength="8.80" lengthAdjust="spacingAndGlyphs">R2</text>
<text x="168.50" y="236.30" font-size="8.1" fill="#6fb0e3" stroke="#6fb0e3" stroke-width="0.12" textLength="7.80" lengthAdjust="spacingAndGlyphs">R1</text>
<text x="168.50" y="250.80" font-size="8.1" fill="#b3173f" stroke="#b3173f" stroke-width="0.12" textLength="8.80" lengthAdjust="spacingAndGlyphs">R0</text>
<text x="258.60" y="166.01" font-size="7.0" text-anchor="end" fill="#231f20" stroke="#231f20" stroke-width="0.12">WT</text>
<rect x="165.20" y="157.30" width="95.20" height="95.50" fill="none" stroke="#111" stroke-width="1.2"/>
<line x1="172.00" y1="252.80" x2="172.00" y2="255.00" stroke="#222" stroke-width="0.9"/>
<line x1="189.50" y1="252.80" x2="189.50" y2="255.00" stroke="#222" stroke-width="0.9"/>
<line x1="205.70" y1="252.80" x2="205.70" y2="255.00" stroke="#222" stroke-width="0.9"/>
<line x1="235.50" y1="252.80" x2="235.50" y2="255.00" stroke="#222" stroke-width="0.9"/>
<path d="M166.70 252.80v1.5M168.20 252.80v1.5M169.40 252.80v1.5M170.50 252.80v1.5M173.20 252.80v1.5M174.20 252.80v1.5M175.20 252.80v1.5M176.20 252.80v1.5M177.20 252.80v1.5M178.20 252.80v1.5M179.20 252.80v1.5M180.20 252.80v1.5M181.20 252.80v1.5M182.20 252.80v1.5M183.20 252.80v1.5M184.20 252.80v1.5M185.20 252.80v1.5M186.20 252.80v1.5M187.00 252.80v1.5M187.70 252.80v1.5M188.40 252.80v1.5M189.20 252.80v1.5M189.90 252.80v1.5M190.60 252.80v1.5M191.30 252.80v1.5M192.20 252.80v1.5M193.20 252.80v1.5M194.20 252.80v1.5M195.20 252.80v1.5M196.20 252.80v1.5M197.70 252.80v1.5M214.70 252.80v1.5M219.70 252.80v1.5M223.20 252.80v1.5M226.20 252.80v1.5M228.50 252.80v1.5M230.60 252.80v1.5M232.40 252.80v1.5M234.00 252.80v1.5M244.80 252.80v1.5M249.80 252.80v1.5M253.40 252.80v1.5M256.20 252.80v1.5M258.50 252.80v1.5" stroke="#333" stroke-width="0.6" fill="none"/>
<rect x="164.40" y="262.70" width="1.70" height="0.75" fill="#231f20"/>
<text transform="translate(166.70 265.80) scale(0.95 1)" font-size="8.4" fill="#231f20" stroke="#231f20" stroke-width="0.12">10</text>
<text transform="translate(175.70 262.80) scale(0.95 1)" font-size="6.6" fill="#231f20" stroke="#231f20" stroke-width="0.12">3</text>
<text transform="translate(189.30 265.80) scale(0.95 1)" font-size="8.4" fill="#231f20" stroke="#231f20" stroke-width="0.12" text-anchor="middle">0</text>
<text transform="translate(201.70 265.80) scale(0.95 1)" font-size="8.4" fill="#231f20" stroke="#231f20" stroke-width="0.12">10</text>
<text transform="translate(210.10 262.80) scale(0.95 1)" font-size="6.6" fill="#231f20" stroke="#231f20" stroke-width="0.12">3</text>
<text transform="translate(231.20 265.80) scale(0.95 1)" font-size="8.4" fill="#231f20" stroke="#231f20" stroke-width="0.12">10</text>
<text transform="translate(240.00 262.80) scale(0.95 1)" font-size="6.6" fill="#231f20" stroke="#231f20" stroke-width="0.12">4</text>
<text x="212.40" y="278.99" font-size="10.3" text-anchor="middle" fill="#231f20" stroke="#231f20" stroke-width="0.12" textLength="23.20" lengthAdjust="spacingAndGlyphs">RUNX1</text>
<path d="M165.80 314.30 L190.30 314.30 L193.00 313.50 L195.40 311.30 L197.40 309.50 L199.40 308.20 L201.40 306.20 L203.40 304.20 L205.50 301.50 L207.50 298.70 L208.50 297.50 L209.50 297.10 L210.50 298.50 L211.50 298.10 L212.80 296.50 L214.10 295.50 L215.40 296.50 L216.60 298.10 L218.00 299.50 L219.60 301.20 L221.00 302.50 L222.60 304.20 L224.70 305.80 L226.70 307.20 L228.20 307.00 L229.70 307.60 L231.20 308.50 L232.70 309.60 L234.70 311.30 L236.80 312.90 L238.80 314.00 L240.80 314.30 L259.80 314.30" stroke="#67ab4f" stroke-width="1.0" fill="none" stroke-linejoin="round"/>
<path d="M165.80 338.50 L190.30 338.50 L192.30 337.00 L194.30 334.50 L196.30 331.50 L198.40 329.40 L199.90 328.20 L201.40 327.80 L202.90 328.50 L204.40 329.40 L206.00 330.50 L207.50 331.10 L209.50 331.60 L211.50 331.90 L213.00 329.00 L214.50 326.40 L216.50 325.50 L218.60 324.40 L220.60 323.00 L222.60 322.40 L224.60 322.00 L226.70 321.00 L228.70 320.50 L230.70 319.70 L232.70 320.50 L234.70 320.40 L235.80 324.00 L236.80 328.40 L238.30 332.00 L239.80 335.50 L241.30 337.50 L242.80 338.50 L259.80 338.50" stroke="#e09a35" stroke-width="1.0" fill="none" stroke-linejoin="round"/>
<path d="M165.80 361.90 L188.30 361.90 L190.30 361.30 L192.30 360.30 L193.80 357.50 L195.40 354.20 L196.90 351.50 L198.40 349.10 L199.90 347.50 L201.40 346.10 L202.90 347.50 L204.40 349.50 L206.50 352.00 L208.50 354.20 L210.50 355.30 L212.50 355.80 L215.00 355.30 L217.60 354.20 L219.60 351.50 L221.60 348.10 L223.60 346.00 L225.70 344.70 L226.70 346.20 L227.70 346.70 L229.40 344.00 L231.10 341.70 L232.40 343.50 L233.70 346.10 L235.20 349.00 L236.80 352.20 L238.30 355.30 L239.80 358.20 L241.30 359.80 L242.80 360.90 L245.90 361.90 L259.80 361.90" stroke="#6fb0e3" stroke-width="1.0" fill="none" stroke-linejoin="round"/>
<path d="M186.30 385.50 L189.30 384.60 L192.30 383.50 L194.80 382.30 L197.40 381.10 L199.90 380.20 L202.40 379.40 L205.50 379.60 L208.50 379.80 L211.50 380.30 L214.50 380.70 L217.60 379.50 L220.60 377.80 L222.60 376.60 L224.60 375.40 L226.70 373.00 L228.70 370.40 L230.20 368.00 L231.70 365.70 L233.20 366.00 L234.70 366.30 L236.20 368.30 L237.80 370.40 L239.30 373.00 L240.80 375.40 L242.80 378.30 L244.80 381.10 L246.80 382.80 L248.90 384.10 L251.40 385.00 L253.90 385.50" stroke="#b3173f" stroke-width="1.0" fill="none" stroke-linejoin="round"/>
<text x="168.50" y="312.10" font-size="8.1" fill="#67ab4f" stroke="#67ab4f" stroke-width="0.12" textLength="8.80" lengthAdjust="spacingAndGlyphs">R3</text>
<text x="168.50" y="337.40" font-size="8.1" fill="#e09a35" stroke="#e09a35" stroke-width="0.12" textLength="8.80" lengthAdjust="spacingAndGlyphs">R2</text>
<text x="168.50" y="361.50" font-size="8.1" fill="#6fb0e3" stroke="#6fb0e3" stroke-width="0.12" textLength="7.80" lengthAdjust="spacingAndGlyphs">R1</text>
<text x="168.50" y="385.00" font-size="8.1" fill="#b3173f" stroke="#b3173f" stroke-width="0.12" textLength="8.80" lengthAdjust="spacingAndGlyphs">R0</text>
<text x="259.40" y="299.61" font-size="7.0" text-anchor="end" fill="#231f20" stroke="#231f20" stroke-width="0.12">G1s</text>
<rect x="165.20" y="290.80" width="95.20" height="95.00" fill="none" stroke="#111" stroke-width="1.2"/>
<line x1="172.00" y1="385.80" x2="172.00" y2="388.00" stroke="#222" stroke-width="0.9"/>
<line x1="189.50" y1="385.80" x2="189.50" y2="388.00" stroke="#222" stroke-width="0.9"/>
<line x1="205.70" y1="385.80" x2="205.70" y2="388.00" stroke="#222" stroke-width="0.9"/>
<line x1="235.50" y1="385.80" x2="235.50" y2="388.00" stroke="#222" stroke-width="0.9"/>
<path d="M166.70 385.80v1.5M168.20 385.80v1.5M169.40 385.80v1.5M170.50 385.80v1.5M173.20 385.80v1.5M174.20 385.80v1.5M175.20 385.80v1.5M176.20 385.80v1.5M177.20 385.80v1.5M178.20 385.80v1.5M179.20 385.80v1.5M180.20 385.80v1.5M181.20 385.80v1.5M182.20 385.80v1.5M183.20 385.80v1.5M184.20 385.80v1.5M185.20 385.80v1.5M186.20 385.80v1.5M187.00 385.80v1.5M187.70 385.80v1.5M188.40 385.80v1.5M189.20 385.80v1.5M189.90 385.80v1.5M190.60 385.80v1.5M191.30 385.80v1.5M192.20 385.80v1.5M193.20 385.80v1.5M194.20 385.80v1.5M195.20 385.80v1.5M196.20 385.80v1.5M197.70 385.80v1.5M214.70 385.80v1.5M219.70 385.80v1.5M223.20 385.80v1.5M226.20 385.80v1.5M228.50 385.80v1.5M230.60 385.80v1.5M232.40 385.80v1.5M234.00 385.80v1.5M244.80 385.80v1.5M249.80 385.80v1.5M253.40 385.80v1.5M256.20 385.80v1.5M258.50 385.80v1.5" stroke="#333" stroke-width="0.6" fill="none"/>
<rect x="164.40" y="395.70" width="1.70" height="0.75" fill="#231f20"/>
<text transform="translate(166.70 398.80) scale(0.95 1)" font-size="8.4" fill="#231f20" stroke="#231f20" stroke-width="0.12">10</text>
<text transform="translate(175.70 395.80) scale(0.95 1)" font-size="6.6" fill="#231f20" stroke="#231f20" stroke-width="0.12">3</text>
<text transform="translate(189.30 398.80) scale(0.95 1)" font-size="8.4" fill="#231f20" stroke="#231f20" stroke-width="0.12" text-anchor="middle">0</text>
<text transform="translate(201.70 398.80) scale(0.95 1)" font-size="8.4" fill="#231f20" stroke="#231f20" stroke-width="0.12">10</text>
<text transform="translate(210.10 395.80) scale(0.95 1)" font-size="6.6" fill="#231f20" stroke="#231f20" stroke-width="0.12">3</text>
<text transform="translate(231.20 398.80) scale(0.95 1)" font-size="8.4" fill="#231f20" stroke="#231f20" stroke-width="0.12">10</text>
<text transform="translate(240.00 395.80) scale(0.95 1)" font-size="6.6" fill="#231f20" stroke="#231f20" stroke-width="0.12">4</text>
<text x="212.40" y="412.89" font-size="10.3" text-anchor="middle" fill="#231f20" stroke="#231f20" stroke-width="0.12" textLength="23.20" lengthAdjust="spacingAndGlyphs">RUNX1</text>
<text x="276.30" y="152.50" font-size="11.8" fill="#000" font-weight="bold" textLength="6.90" lengthAdjust="spacingAndGlyphs">E</text>
<path d="M288.20 190.00 L311.50 190.00 L316.00 189.60 L320.80 188.90 L323.00 188.00 L325.40 186.90 L327.20 186.40 L329.20 186.20 L330.80 186.60 L332.30 187.40 L334.20 188.70 L336.20 189.50 L338.00 189.00 L340.00 188.50 L342.10 188.20 L345.50 187.00 L348.80 185.70 L351.50 184.00 L354.20 182.30 L356.30 180.50 L358.30 178.90 L359.60 180.00 L361.00 181.20 L362.50 178.50 L363.90 176.20 L365.80 179.50 L367.70 183.00 L369.00 184.30 L370.40 185.30 L372.00 187.00 L373.70 189.00 L377.10 189.30 L380.00 190.00 L381.60 190.10" stroke="#e09a35" stroke-width="1.0" fill="none" stroke-linejoin="round"/>
<path d="M288.20 221.60 L314.00 221.60 L316.00 220.60 L318.00 220.90 L322.00 221.40 L330.00 221.20 L341.30 220.50 L344.50 219.00 L347.70 216.90 L350.30 213.00 L353.00 209.50 L354.60 207.50 L356.20 205.30 L357.50 204.00 L358.70 203.20 L360.00 204.50 L361.40 206.30 L362.50 208.30 L363.60 210.20 L364.70 209.30 L365.70 208.90 L366.80 210.00 L367.80 211.60 L369.90 215.90 L371.50 218.50 L373.10 220.70 L376.00 221.50 L381.60 221.60" stroke="#6fb0e3" stroke-width="1.0" fill="none" stroke-linejoin="round"/>
<path d="M305.40 252.50 L308.50 251.50 L311.70 249.70 L314.00 246.50 L316.00 242.30 L318.10 238.00 L320.20 233.80 L321.80 230.50 L323.40 227.50 L324.80 225.50 L326.10 224.30 L327.20 225.50 L328.20 226.50 L329.70 228.60 L331.30 230.80 L332.90 232.80 L335.00 235.00 L337.10 237.00 L339.20 238.80 L341.30 240.20 L343.50 240.50 L345.60 240.60 L347.00 240.00 L348.10 239.60 L350.00 242.00 L351.90 244.40 L354.50 247.00 L357.20 249.70 L360.90 251.50 L364.60 252.50" stroke="#b3173f" stroke-width="1.0" fill="none" stroke-linejoin="round"/>
<text x="288.60" y="180.01" font-size="7.3" fill="#e09a35" stroke="#e09a35" stroke-width="0.12" textLength="48.40" lengthAdjust="spacingAndGlyphs">CD41+CD42+</text>
<text x="288.60" y="213.41" font-size="7.3" fill="#6fb0e3" stroke="#6fb0e3" stroke-width="0.12" textLength="45.30" lengthAdjust="spacingAndGlyphs">CD41+CD42-</text>
<text x="290.20" y="243.21" font-size="7.3" fill="#b3173f" stroke="#b3173f" stroke-width="0.12" textLength="42.70" lengthAdjust="spacingAndGlyphs">CD41-CD42-</text>
<text x="380.40" y="166.01" font-size="7.0" text-anchor="end" fill="#231f20" stroke="#231f20" stroke-width="0.12">WT</text>
<rect x="287.60" y="158.60" width="94.60" height="94.00" fill="none" stroke="#111" stroke-width="1.2"/>
<line x1="294.40" y1="252.60" x2="294.40" y2="254.80" stroke="#222" stroke-width="0.9"/>
<line x1="311.90" y1="252.60" x2="311.90" y2="254.80" stroke="#222" stroke-width="0.9"/>
<line x1="328.10" y1="252.60" x2="328.10" y2="254.80" stroke="#222" stroke-width="0.9"/>
<line x1="357.90" y1="252.60" x2="357.90" y2="254.80" stroke="#222" stroke-width="0.9"/>
<path d="M289.10 252.60v1.5M290.60 252.60v1.5M291.80 252.60v1.5M292.90 252.60v1.5M295.60 252.60v1.5M296.60 252.60v1.5M297.60 252.60v1.5M298.60 252.60v1.5M299.60 252.60v1.5M300.60 252.60v1.5M301.60 252.60v1.5M302.60 252.60v1.5M303.60 252.60v1.5M304.60 252.60v1.5M305.60 252.60v1.5M306.60 252.60v1.5M307.60 252.60v1.5M308.60 252.60v1.5M309.40 252.60v1.5M310.10 252.60v1.5M310.80 252.60v1.5M311.60 252.60v1.5M312.30 252.60v1.5M313.00 252.60v1.5M313.70 252.60v1.5M314.60 252.60v1.5M315.60 252.60v1.5M316.60 252.60v1.5M317.60 252.60v1.5M318.60 252.60v1.5M320.10 252.60v1.5M337.10 252.60v1.5M342.10 252.60v1.5M345.60 252.60v1.5M348.60 252.60v1.5M350.90 252.60v1.5M353.00 252.60v1.5M354.80 252.60v1.5M356.40 252.60v1.5M367.20 252.60v1.5M372.20 252.60v1.5M375.80 252.60v1.5M378.60 252.60v1.5M380.90 252.60v1.5" stroke="#333" stroke-width="0.6" fill="none"/>
<rect x="286.80" y="262.50" width="1.70" height="0.75" fill="#231f20"/>
<text transform="translate(289.10 265.60) scale(0.95 1)" font-size="8.4" fill="#231f20" stroke="#231f20" stroke-width="0.12">10</text>
<text transform="translate(298.10 262.60) scale(0.95 1)" font-size="6.6" fill="#231f20" stroke="#231f20" stroke-width="0.12">3</text>
<text transform="translate(311.70 265.60) scale(0.95 1)" font-size="8.4" fill="#231f20" stroke="#231f20" stroke-width="0.12" text-anchor="middle">0</text>
<text transform="translate(324.10 265.60) scale(0.95 1)" font-size="8.4" fill="#231f20" stroke="#231f20" stroke-width="0.12">10</text>
<text transform="translate(332.50 262.60) scale(0.95 1)" font-size="6.6" fill="#231f20" stroke="#231f20" stroke-width="0.12">3</text>
<text transform="translate(353.60 265.60) scale(0.95 1)" font-size="8.4" fill="#231f20" stroke="#231f20" stroke-width="0.12">10</text>
<text transform="translate(362.40 262.60) scale(0.95 1)" font-size="6.6" fill="#231f20" stroke="#231f20" stroke-width="0.12">4</text>
<text x="335.00" y="278.99" font-size="10.3" text-anchor="middle" fill="#231f20" stroke="#231f20" stroke-width="0.12" textLength="23.20" lengthAdjust="spacingAndGlyphs">RUNX1</text>
<path d="M288.20 322.40 L300.00 322.40 L320.00 322.20 L332.90 321.40 L337.00 320.80 L341.30 319.90 L344.50 318.50 L347.70 316.70 L349.80 314.00 L351.90 310.40 L353.00 307.00 L354.00 304.00 L355.30 302.00 L356.60 299.40 L357.60 297.50 L358.70 296.60 L360.00 297.20 L361.40 297.30 L362.80 299.50 L364.20 301.90 L365.70 305.00 L367.20 308.30 L369.00 312.00 L371.00 315.70 L373.00 318.00 L375.20 319.90 L377.80 321.20 L380.50 322.00 L381.60 322.20" stroke="#e09a35" stroke-width="1.0" fill="none" stroke-linejoin="round"/>
<path d="M288.20 353.10 L313.80 352.90 L320.00 352.30 L328.70 351.40 L335.00 350.70 L341.30 350.00 L344.50 349.30 L347.70 348.30 L349.80 345.50 L351.90 341.90 L353.20 338.50 L354.50 335.20 L355.80 332.50 L357.20 330.30 L358.20 328.50 L359.30 327.50 L360.30 329.00 L361.40 331.30 L362.80 335.00 L364.20 338.80 L365.50 342.50 L366.70 346.20 L368.30 349.00 L369.90 351.40 L372.00 352.50 L374.10 353.10 L381.60 353.10" stroke="#6fb0e3" stroke-width="1.0" fill="none" stroke-linejoin="round"/>
<path d="M314.90 385.30 L316.50 384.40 L318.10 383.20 L320.20 380.70 L322.30 378.30 L323.90 376.60 L325.50 375.30 L326.50 374.50 L327.60 374.10 L329.20 375.30 L330.80 376.80 L333.00 378.70 L335.00 380.40 L337.10 381.20 L339.20 381.70 L341.30 381.00 L343.50 380.00 L345.40 377.00 L347.30 373.70 L348.80 369.00 L350.20 364.10 L351.40 361.20 L352.60 358.80 L353.50 357.30 L354.50 356.30 L355.50 358.00 L356.60 359.90 L358.00 363.50 L359.30 367.30 L360.90 371.50 L362.50 375.80 L364.10 379.20 L365.70 382.10 L367.30 384.00 L368.90 385.30" stroke="#b3173f" stroke-width="1.0" fill="none" stroke-linejoin="round"/>
<text x="290.60" y="300.71" font-size="7.3" fill="#e09a35" stroke="#e09a35" stroke-width="0.12" textLength="48.20" lengthAdjust="spacingAndGlyphs">CD41+CD42+</text>
<text x="290.60" y="333.71" font-size="7.3" fill="#6fb0e3" stroke="#6fb0e3" stroke-width="0.12" textLength="46.10" lengthAdjust="spacingAndGlyphs">CD41+CD42-</text>
<text x="291.60" y="364.01" font-size="7.3" fill="#b3173f" stroke="#b3173f" stroke-width="0.12" textLength="43.80" lengthAdjust="spacingAndGlyphs">CD41-CD42-</text>
<text x="381.10" y="299.81" font-size="7.0" text-anchor="end" fill="#231f20" stroke="#231f20" stroke-width="0.12">G1s</text>
<rect x="287.60" y="290.80" width="94.60" height="95.00" fill="none" stroke="#111" stroke-width="1.2"/>
<line x1="294.40" y1="385.80" x2="294.40" y2="388.00" stroke="#222" stroke-width="0.9"/>
<line x1="311.90" y1="385.80" x2="311.90" y2="388.00" stroke="#222" stroke-width="0.9"/>
<line x1="328.10" y1="385.80" x2="328.10" y2="388.00" stroke="#222" stroke-width="0.9"/>
<line x1="357.90" y1="385.80" x2="357.90" y2="388.00" stroke="#222" stroke-width="0.9"/>
<path d="M289.10 385.80v1.5M290.60 385.80v1.5M291.80 385.80v1.5M292.90 385.80v1.5M295.60 385.80v1.5M296.60 385.80v1.5M297.60 385.80v1.5M298.60 385.80v1.5M299.60 385.80v1.5M300.60 385.80v1.5M301.60 385.80v1.5M302.60 385.80v1.5M303.60 385.80v1.5M304.60 385.80v1.5M305.60 385.80v1.5M306.60 385.80v1.5M307.60 385.80v1.5M308.60 385.80v1.5M309.40 385.80v1.5M310.10 385.80v1.5M310.80 385.80v1.5M311.60 385.80v1.5M312.30 385.80v1.5M313.00 385.80v1.5M313.70 385.80v1.5M314.60 385.80v1.5M315.60 385.80v1.5M316.60 385.80v1.5M317.60 385.80v1.5M318.60 385.80v1.5M320.10 385.80v1.5M337.10 385.80v1.5M342.10 385.80v1.5M345.60 385.80v1.5M348.60 385.80v1.5M350.90 385.80v1.5M353.00 385.80v1.5M354.80 385.80v1.5M356.40 385.80v1.5M367.20 385.80v1.5M372.20 385.80v1.5M375.80 385.80v1.5M378.60 385.80v1.5M380.90 385.80v1.5" stroke="#333" stroke-width="0.6" fill="none"/>
<rect x="286.80" y="395.70" width="1.70" height="0.75" fill="#231f20"/>
<text transform="translate(289.10 398.80) scale(0.95 1)" font-size="8.4" fill="#231f20" stroke="#231f20" stroke-width="0.12">10</text>
<text transform="translate(298.10 395.80) scale(0.95 1)" font-size="6.6" fill="#231f20" stroke="#231f20" stroke-width="0.12">3</text>
<text transform="translate(311.70 398.80) scale(0.95 1)" font-size="8.4" fill="#231f20" stroke="#231f20" stroke-width="0.12" text-anchor="middle">0</text>
<text transform="translate(324.10 398.80) scale(0.95 1)" font-size="8.4" fill="#231f20" stroke="#231f20" stroke-width="0.12">10</text>
<text transform="translate(332.50 395.80) scale(0.95 1)" font-size="6.6" fill="#231f20" stroke="#231f20" stroke-width="0.12">3</text>
<text transform="translate(353.60 398.80) scale(0.95 1)" font-size="8.4" fill="#231f20" stroke="#231f20" stroke-width="0.12">10</text>
<text transform="translate(362.40 395.80) scale(0.95 1)" font-size="6.6" fill="#231f20" stroke="#231f20" stroke-width="0.12">4</text>
<text x="335.00" y="412.89" font-size="10.3" text-anchor="middle" fill="#231f20" stroke="#231f20" stroke-width="0.12" textLength="23.20" lengthAdjust="spacingAndGlyphs">RUNX1</text>
<text x="7.00" y="440.90" font-size="11.8" fill="#000" font-weight="bold" textLength="6.60" lengthAdjust="spacingAndGlyphs">F</text>
<text x="28.30" y="451.04" font-size="8.2" fill="#1a1a1a" stroke="#1a1a1a" stroke-width="0.12" font-style="italic" textLength="17.60" lengthAdjust="spacingAndGlyphs">R1/2</text>
<text x="257.80" y="450.54" font-size="8.2" fill="#1a1a1a" stroke="#1a1a1a" stroke-width="0.12" font-style="italic" textLength="9.60" lengthAdjust="spacingAndGlyphs">R3</text>
<rect x="6.60" y="456.30" width="219.70" height="23.20" fill="#f8f8f8"/>
<rect x="6.60" y="480.20" width="219.70" height="23.50" fill="#f8f8f8"/>
<rect x="6.60" y="504.40" width="219.70" height="22.60" fill="#f8f8f8"/>
<rect x="6.60" y="527.70" width="219.70" height="23.00" fill="#f8f8f8"/>
<rect x="6.60" y="551.40" width="219.70" height="22.90" fill="#f8f8f8"/>
<rect x="6.60" y="575.00" width="219.70" height="23.10" fill="#f8f8f8"/>
<rect x="6.60" y="598.80" width="219.70" height="15.00" fill="#f8f8f8"/>
<text x="7.30" y="461.60" font-size="4.6" fill="#333" stroke="#333" stroke-width="0.12" textLength="10.60" lengthAdjust="spacingAndGlyphs">[0-50]</text>
<text x="7.30" y="469.50" font-size="8.7" fill="#111" textLength="41.60" lengthAdjust="spacingAndGlyphs" stroke="#111" stroke-width="0.18">WT_GATA1</text>
<path d="M6.6 479.2H6.6V478.2H7.1V478.4H11.6V478.3H12.1V478.4H14.1V478.2H14.6V478.4H16.6V478.2H17.1V478.4H18.6V478.2H19.1V478.4H19.6V478.0H20.1V478.4H23.6V478.0H24.1V478.4H24.6V478.2H25.1V478.4H28.6V478.3H29.1V478.2H29.6V478.4H31.6V478.0H32.1V478.4H32.6V478.3H33.1V478.1H33.6V478.3H34.1V478.4H35.1V478.3H35.6V478.4H36.1V478.3H36.6V478.4H38.6V478.3H39.1V478.4H39.6V478.3H40.1V478.4H41.1V478.2H41.6V478.4H42.1V478.3H42.6V478.1H43.6V478.4H44.6V477.9H45.1V478.4H46.1V478.1H46.6V478.4H48.6V478.3H49.1V478.4H53.1V478.3H53.6V478.4H54.1V478.0H54.6V478.4H55.6V478.0H56.1V478.4H58.6V478.1H59.1V478.4H59.6V478.3H60.1V478.4H60.6V478.2H61.1V478.4H62.6V478.3H63.1V478.4H65.2V478.1H65.7V478.4H69.2V478.1H69.7V478.3H70.2V478.4H70.7V478.1H71.2V478.4H73.2V478.0H73.7V478.4H75.2V478.2H75.7V478.3H76.2V478.0H76.7V478.4H80.2V478.3H80.7V478.0H81.2V478.4H82.7V478.0H83.2V478.4H83.7V478.1H84.2V478.3H84.7V478.4H85.2V478.3H85.7V478.4H86.7V478.3H87.2V478.1H87.7V477.9H88.2V478.4H89.7V478.3H90.2V478.4H90.7V478.1H91.2V478.3H91.7V478.4H92.2V478.2H92.7V478.4H93.7V477.9H94.2V478.4H95.2V478.3H95.7V478.4H98.2V478.2H98.7V478.4H99.2V478.3H99.7V477.9H100.2V478.4H104.7V471.1H105.7V478.4H107.7V478.3H108.7V478.4H109.2V478.3H109.7V478.4H110.2V478.0H110.7V478.4H111.7V478.2H112.2V478.4H112.7V477.4H113.7V478.4H115.2V478.2H115.7V478.4H116.2V476.9H117.2V478.3H117.7V478.4H118.2V466.2H119.2V478.4H120.7V478.3H121.2V478.1H121.7V478.4H122.2V478.3H122.7V478.4H126.7V478.3H127.2V478.4H128.7V478.3H129.7V478.0H130.2V478.4H131.7V478.3H132.2V478.4H135.2V478.2H135.7V478.4H136.2V478.3H136.7V478.4H138.2V478.1H138.7V478.3H139.2V478.4H140.2V478.1H140.7V478.4H146.2V476.9H147.2V478.2H147.7V478.4H148.2V478.1H148.7V478.4H150.2V478.1H150.7V477.9H151.2V478.4H152.2V477.9H152.7V478.4H153.2V478.0H153.7V478.4H154.2V473.4H155.2V478.4H158.2V478.3H158.7V477.9H159.2V478.4H159.7V478.2H160.2V478.4H160.7V478.3H161.2V478.1H161.7V478.3H162.2V478.4H162.7V478.2H163.2V478.4H164.2V478.3H164.7V478.4H165.2V478.2H165.7V478.1H166.2V478.4H170.7V478.3H171.2V478.4H171.7V478.1H172.2V478.4H174.2V478.2H174.7V476.0H176.2V478.4H177.2V478.3H177.7V478.4H181.2V476.9H182.2V478.2H182.7V478.4H187.7V478.2H188.2V478.4H189.2V478.3H189.7V478.4H196.2V471.7H197.2V478.4H199.2V476.4H200.7V478.1H201.2V478.4H202.2V478.0H202.7V478.4H203.7V478.2H204.2V478.4H206.2V478.2H206.7V478.4H209.2V478.3H209.7V478.4H210.2V478.3H210.7V478.4H213.2V478.1H213.7V478.4H214.7V478.2H215.7V478.0H216.2V478.4H217.2V477.9H217.7V478.4H218.7V477.9H219.2V478.4H221.7V478.2H222.2V477.9H222.7V478.4H224.7V478.2H225.2V478.3H225.7V478.4H226.2V479.2Z" fill="#4d3f9e"/>
<text x="7.30" y="484.90" font-size="4.6" fill="#333" stroke="#333" stroke-width="0.12" textLength="10.60" lengthAdjust="spacingAndGlyphs">[0-50]</text>
<text x="7.30" y="492.80" font-size="8.7" fill="#111" textLength="47.00" lengthAdjust="spacingAndGlyphs" stroke="#111" stroke-width="0.18">G1s_GATA1s</text>
<path d="M6.6 503.5H6.6V502.6H9.1V502.2H9.6V502.6H10.1V502.4H10.6V503.5ZM12.6 503.5H12.6V502.6H13.1V503.5ZM13.6 503.5H13.6V502.2H14.1V502.6H15.1V501.7H15.6V502.2H16.1V502.6H16.6V502.3H17.1V503.5ZM18.6 503.5H18.6V502.5H19.6V502.2H20.1V502.6H21.6V503.5ZM22.6 503.5H22.6V502.6H23.1V502.4H23.6V502.2H24.1V502.6H25.1V503.5ZM26.6 503.5H26.6V502.6H27.1V502.4H27.6V502.6H28.1V502.5H28.6V502.6H29.1V503.5ZM29.6 503.5H29.6V502.1H30.1V502.5H31.1V502.3H31.6V503.5ZM32.6 503.5H32.6V502.6H34.1V501.8H34.6V502.6H35.6V503.5ZM37.6 503.5H37.6V502.6H39.1V502.4H39.6V502.6H40.1V502.5H40.6V502.6H41.6V503.5ZM43.1 503.5H43.1V502.6H44.6V501.7H45.1V503.5ZM46.1 503.5H46.1V502.6H46.6V503.5ZM47.1 503.5H47.1V502.1H47.6V502.5H48.1V502.6H49.1V503.5ZM50.1 503.5H50.1V502.4H50.6V502.6H51.6V503.5ZM53.6 503.5H53.6V502.2H54.1V502.5H54.6V502.6H55.6V503.5ZM57.1 503.5H57.1V502.0H57.6V502.3H58.1V503.5ZM58.6 503.5H58.6V502.6H60.1V503.5ZM60.6 503.5H60.6V502.6H61.1V502.5H61.6V501.9H62.1V502.6H62.6V503.5ZM64.7 503.5H64.7V502.6H65.7V502.2H66.2V502.6H67.7V503.5ZM68.2 503.5H68.2V502.6H69.7V502.3H70.2V502.6H71.7V503.5ZM73.7 503.5H73.7V502.6H74.7V502.5H75.2V502.6H75.7V502.4H76.2V502.6H76.7V503.5ZM78.7 503.5H78.7V502.6H80.2V502.4H80.7V502.6H81.2V502.4H81.7V503.5ZM83.7 503.5H83.7V502.5H84.2V502.6H85.2V503.5ZM87.2 503.5H87.2V502.6H87.7V502.5H88.2V502.1H88.7V502.6H90.2V502.3H90.7V502.6H91.2V503.5ZM91.7 503.5H91.7V502.6H92.2V502.3H92.7V502.6H93.2V501.8H93.7V502.6H94.7V503.5ZM96.2 503.5H96.2V502.6H98.2V503.5ZM99.7 503.5H99.7V502.4H100.2V502.2H100.7V502.6H101.2V502.3H101.7V503.5ZM103.7 503.5H103.7V502.6H104.7V496.2H105.7V503.5ZM107.7 503.5H107.7V502.6H108.2V502.1H108.7V502.2H109.2V502.3H109.7V502.2H110.7V502.5H111.2V502.4H111.7V502.1H112.2V502.5H112.7V500.9H113.7V502.5H114.2V502.2H114.7V502.3H115.2V500.4H116.2V502.2H116.7V499.9H117.7V502.4H118.2V485.4H119.2V502.4H119.7V500.9H120.7V502.0H121.2V502.2H121.7V502.3H122.2V502.5H123.7V502.2H124.2V502.0H124.7V502.6H125.2V503.5ZM126.2 503.5H126.2V502.6H128.2V502.5H128.7V502.6H129.2V503.5ZM129.7 503.5H129.7V502.6H130.2V502.5H130.7V502.6H133.2V503.5ZM134.2 503.5H134.2V502.6H137.7V503.5ZM138.7 503.5H138.7V501.9H139.2V502.6H142.2V502.2H142.7V503.5ZM144.2 503.5H144.2V502.6H146.2V503.5ZM147.7 503.5H147.7V502.6H148.7V502.4H149.2V502.5H149.7V502.6H150.2V503.5ZM151.7 503.5H151.7V501.9H152.2V502.6H153.2V503.5ZM153.7 503.5H153.7V502.6H154.2V495.2H155.2V501.8H155.7V503.5ZM157.7 503.5H157.7V502.6H160.2V503.5ZM160.7 503.5H160.7V502.5H161.2V502.1H161.7V502.6H163.2V502.0H163.7V502.6H164.2V503.5ZM165.7 503.5H165.7V502.6H166.7V500.4H167.7V502.6H169.2V503.5ZM169.7 503.5H169.7V502.6H172.7V503.5ZM173.2 503.5H173.2V502.6H173.7V502.2H174.2V502.6H175.7V503.5ZM176.7 503.5H176.7V501.7H177.2V502.6H177.7V503.5ZM179.7 503.5H179.7V502.6H180.2V503.5ZM181.2 503.5H181.2V498.9H182.2V501.7H182.7V502.5H183.2V502.6H185.2V503.5ZM185.7 503.5H185.7V502.6H186.7V503.5ZM188.7 503.5H188.7V502.6H189.2V501.9H189.7V502.6H190.2V502.2H190.7V503.5ZM192.2 503.5H192.2V502.5H192.7V503.5ZM193.7 503.5H193.7V500.4H194.7V503.5ZM196.2 503.5H196.2V490.7H197.2V503.5ZM198.7 503.5H198.7V502.6H199.2V499.9H200.7V502.4H201.2V503.5ZM202.2 503.5H202.2V502.5H202.7V502.6H204.7V502.5H205.2V502.6H205.7V503.5ZM206.2 503.5H206.2V502.6H207.2V503.5ZM208.7 503.5H208.7V502.3H209.2V502.6H210.2V503.5ZM210.7 503.5H210.7V502.6H214.7V503.5ZM215.2 503.5H215.2V502.6H215.7V503.5ZM216.7 503.5H216.7V502.6H219.2V503.5ZM220.7 503.5H220.7V502.6H221.7V503.5ZM222.7 503.5H222.7V502.6H223.2V503.5ZM224.2 503.5H224.2V502.6H224.7V502.5H225.2V502.6H225.7V501.8H226.2V503.5Z" fill="#d41f26"/>
<text x="7.30" y="508.80" font-size="4.6" fill="#333" stroke="#333" stroke-width="0.12" textLength="10.60" lengthAdjust="spacingAndGlyphs">[0-30]</text>
<text x="7.30" y="517.10" font-size="8.7" fill="#111" textLength="56.90" lengthAdjust="spacingAndGlyphs" stroke="#111" stroke-width="0.18">WT_H3K27me3</text>
<path d="M6.6 526.8H6.6V526.0H7.1V526.8ZM8.6 526.8H8.6V526.0H9.6V526.8ZM11.1 526.8H11.1V526.0H12.6V526.8ZM15.1 526.8H15.1V526.0H15.6V526.8ZM16.1 526.8H16.1V526.0H18.1V526.8ZM19.1 526.8H19.1V526.0H19.6V525.8H20.1V526.0H21.1V526.8ZM22.1 526.8H22.1V526.0H23.6V526.8ZM24.1 526.8H24.1V526.0H24.6V525.8H25.1V525.7H25.6V526.8ZM27.6 526.8H27.6V526.0H28.6V526.8ZM30.1 526.8H30.1V526.0H31.6V526.8ZM32.1 526.8H32.1V525.8H32.6V526.0H33.6V526.8ZM35.1 526.8H35.1V526.0H35.6V526.8ZM36.1 526.8H36.1V526.0H38.1V526.8ZM39.1 526.8H39.1V525.8H39.6V526.0H40.6V526.8ZM42.6 526.8H42.6V526.0H43.1V525.4H43.6V523.6H44.6V526.8ZM46.1 526.8H46.1V525.8H46.6V526.0H47.1V526.8ZM49.1 526.8H49.1V526.0H50.1V526.8ZM52.1 526.8H52.1V525.9H52.6V526.0H53.6V525.9H54.1V526.8ZM54.6 526.8H54.6V526.0H55.1V526.8ZM55.6 526.8H55.6V526.0H57.6V526.8ZM58.6 526.8H58.6V525.7H59.1V526.0H59.6V525.9H60.1V526.8ZM61.1 526.8H61.1V526.0H62.1V526.8ZM63.1 526.8H63.1V526.0H64.2V526.8ZM65.7 526.8H65.7V526.0H67.2V526.8ZM69.2 526.8H69.2V525.9H69.7V526.0H70.7V526.8ZM72.7 526.8H72.7V526.0H74.7V526.8ZM76.7 526.8H76.7V526.0H78.2V526.8ZM78.7 526.8H78.7V526.0H80.7V526.8ZM82.7 526.8H82.7V526.0H84.2V525.9H84.7V526.8ZM86.2 526.8H86.2V526.0H87.7V526.8ZM88.2 526.8H88.2V526.0H90.2V526.8ZM91.7 526.8H91.7V526.0H92.2V526.8ZM92.7 526.8H92.7V526.0H93.2V525.8H93.7V526.0H94.7V526.8ZM96.7 526.8H96.7V526.0H97.2V526.8ZM99.2 526.8H99.2V526.0H100.2V526.8ZM100.7 526.8H100.7V526.0H101.2V526.8ZM103.2 526.8H103.2V525.9H103.7V526.0H105.2V526.8ZM105.7 526.8H105.7V525.7H106.2V526.0H106.7V524.9H107.7V523.4H108.7V526.0H109.2V526.8ZM110.2 526.8H110.2V526.0H111.7V525.8H112.2V526.8ZM114.2 526.8H114.2V526.0H115.2V526.8ZM117.2 526.8H117.2V525.8H117.7V526.0H118.2V526.8ZM118.7 526.8H118.7V526.0H120.2V526.8ZM120.7 526.8H120.7V526.0H121.2V526.8ZM122.2 526.8H122.2V525.9H122.7V526.0H123.7V526.8ZM126.2 526.8H126.2V526.0H127.2V526.8ZM129.2 526.8H129.2V526.0H130.2V525.9H130.7V526.0H131.2V526.8ZM132.2 526.8H132.2V526.0H133.2V526.8ZM134.7 526.8H134.7V525.9H135.2V526.0H136.2V526.8ZM137.7 526.8H137.7V526.0H139.2V526.8ZM140.7 526.8H140.7V526.0H142.7V526.8ZM144.2 526.8H144.2V526.0H145.2V526.8ZM146.7 526.8H146.7V526.0H147.2V526.8ZM148.2 526.8H148.2V526.0H148.7V525.9H149.2V526.0H149.7V525.9H150.2V526.8ZM151.7 526.8H151.7V526.0H152.2V525.9H152.7V526.0H153.2V526.8ZM153.7 526.8H153.7V526.0H154.7V526.8ZM157.7 526.8H157.7V526.0H159.2V526.8ZM159.7 526.8H159.7V526.0H161.2V526.8ZM162.2 526.8H162.2V525.7H162.7V526.0H163.7V526.8ZM164.7 526.8H164.7V526.0H166.2V526.8ZM168.2 526.8H168.2V526.0H169.7V526.8ZM171.7 526.8H171.7V526.0H172.2V526.8ZM173.2 526.8H173.2V526.0H174.7V526.8ZM175.7 526.8H175.7V526.0H176.7V526.8ZM177.7 526.8H177.7V526.0H178.7V526.8ZM180.2 526.8H180.2V526.0H180.7V526.8ZM181.7 526.8H181.7V526.0H183.2V526.8ZM183.7 526.8H183.7V526.0H185.2V526.8ZM186.7 526.8H186.7V525.8H187.2V526.0H187.7V526.8ZM188.2 526.8H188.2V526.0H190.2V526.8ZM190.7 526.8H190.7V526.0H191.2V526.8ZM192.2 526.8H192.2V526.0H193.7V526.8ZM194.2 526.8H194.2V526.0H195.2V526.8ZM196.2 526.8H196.2V525.9H196.7V526.0H198.2V526.8ZM199.2 526.8H199.2V526.0H200.2V525.0H200.7V525.5H201.7V525.9H202.2V525.6H202.7V525.5H203.2V525.9H203.7V525.5H204.2V525.6H204.7V526.0H205.2V525.9H205.7V525.6H206.2V525.7H206.7V526.0H207.2V525.6H207.7V526.0H208.2V525.6H208.7V525.7H209.2V525.9H209.7V525.7H210.2V525.6H210.7V525.9H211.2V525.6H211.7V525.5H212.2V525.7H212.7V525.5H213.2V525.9H213.7V525.3H214.2V526.0H214.7V525.8H215.2V525.6H215.7V525.8H216.2V525.5H216.7V525.4H217.2V526.0H217.7V525.9H218.2V526.0H218.7V525.3H219.2V525.8H219.7V525.5H220.2V525.7H220.7V526.0H221.2V525.8H221.7V525.6H222.2V526.0H222.7V525.9H223.2V526.0H223.7V525.4H224.2V525.9H224.7V525.7H225.2V525.6H225.7V525.3H226.2V526.8Z" fill="#4d3f9e"/>
<text x="7.30" y="532.00" font-size="4.6" fill="#333" stroke="#333" stroke-width="0.12" textLength="10.60" lengthAdjust="spacingAndGlyphs">[0-30]</text>
<text x="7.30" y="540.70" font-size="8.7" fill="#111" textLength="59.30" lengthAdjust="spacingAndGlyphs" stroke="#111" stroke-width="0.18">G1s_H3K27me3</text>
<path d="M6.6 550.5H6.6V549.2H7.6V549.3H8.1V549.0H9.1V549.2H10.1V549.1H10.6V549.2H11.6V549.5H12.1V549.0H12.6V548.1H13.1V549.5H14.1V549.2H15.6V549.0H16.1V549.5H17.1V549.0H17.6V548.8H18.1V549.1H18.6V549.3H19.1V549.5H19.6V549.4H20.1V549.1H20.6V549.4H21.1V549.5H21.6V549.0H22.1V549.3H22.6V549.0H23.1V549.5H23.6V549.1H25.1V549.4H25.6V549.5H26.1V549.0H26.6V549.2H27.1V549.1H27.6V549.3H28.1V549.4H28.6V549.1H29.1V549.5H30.1V549.1H31.1V548.8H31.6V549.2H32.1V549.0H32.6V549.2H33.1V549.5H33.6V549.4H34.1V549.3H34.6V549.2H35.1V549.5H35.6V548.8H36.1V549.0H36.6V549.2H37.1V549.4H37.6V549.0H38.6V549.1H39.1V549.3H39.6V549.4H40.1V549.5H40.6V549.1H41.1V549.2H41.6V549.5H42.6V549.4H43.6V549.5H44.1V549.4H44.6V549.0H45.1V549.5H45.6V549.2H46.1V549.5H46.6V549.0H47.1V549.1H47.6V549.0H49.6V549.5H50.1V549.6H52.6V550.5ZM54.1 550.5H54.1V549.6H56.1V550.5ZM56.6 550.5H56.6V549.6H58.1V549.5H58.6V550.5ZM59.1 550.5H59.1V549.6H62.1V549.4H62.6V550.5ZM64.7 550.5H64.7V549.5H65.2V549.6H67.2V550.5ZM68.2 550.5H68.2V549.6H69.2V549.5H69.7V549.6H71.7V550.5ZM73.2 550.5H73.2V549.6H73.7V549.5H74.2V548.8H74.7V549.6H75.7V549.5H76.2V548.7H76.7V550.5ZM78.7 550.5H78.7V549.0H79.2V549.6H80.7V550.5ZM81.7 550.5H81.7V549.3H82.2V549.5H83.7V549.6H84.2V550.5ZM85.2 550.5H85.2V548.8H85.7V549.6H86.2V550.5ZM87.2 550.5H87.2V549.6H90.2V549.2H90.7V549.3H91.2V549.5H91.7V549.2H92.2V549.4H92.7V549.5H93.2V548.8H93.7V549.3H94.2V549.5H94.7V549.4H95.7V549.5H97.2V548.5H97.7V549.1H98.2V549.2H98.7V549.5H99.2V549.1H100.2V549.4H100.7V549.2H101.2V549.5H101.7V549.1H102.2V549.3H103.2V549.5H104.2V549.3H104.7V549.1H105.2V549.5H105.7V548.9H106.7V547.9H108.2V549.5H108.7V549.2H109.2V549.4H109.7V549.3H110.2V549.5H110.7V549.1H111.2V549.3H111.7V549.5H112.2V549.1H112.7V549.4H113.2V548.7H113.7V549.5H114.2V549.2H114.7V549.5H115.2V549.4H115.7V549.0H116.2V549.2H117.2V548.9H117.7V549.1H118.2V548.8H118.7V549.4H119.2V549.5H119.7V548.4H120.2V549.5H120.7V549.4H121.2V549.2H121.7V549.3H122.7V549.0H123.7V549.1H124.2V549.5H125.2V548.8H125.7V549.6H126.2V550.5ZM127.2 550.5H127.2V549.6H128.2V550.5ZM129.2 550.5H129.2V549.4H129.7V550.5ZM131.2 550.5H131.2V549.6H132.2V549.5H132.7V549.6H133.2V548.7H133.7V549.3H134.2V549.6H134.7V550.5ZM136.7 550.5H136.7V549.6H137.2V548.9H137.7V549.1H138.2V549.0H138.7V549.5H139.7V550.5ZM141.7 550.5H141.7V549.6H142.2V550.5ZM143.2 550.5H143.2V549.6H145.2V549.5H145.7V549.6H147.2V550.5ZM149.2 550.5H149.2V549.6H149.7V548.8H150.2V549.6H151.2V550.5ZM153.2 550.5H153.2V549.6H153.7V549.5H154.2V549.3H154.7V549.6H155.7V550.5ZM157.7 550.5H157.7V549.6H159.2V550.5ZM159.7 550.5H159.7V549.6H160.2V549.5H161.2V549.6H161.7V550.5ZM162.2 550.5H162.2V549.2H162.7V549.6H163.7V550.5ZM165.7 550.5H165.7V549.6H166.7V549.4H167.2V550.5ZM167.7 550.5H167.7V549.6H168.2V550.5ZM168.7 550.5H168.7V549.5H169.2V548.9H169.7V549.6H171.2V549.5H171.7V550.5ZM172.7 550.5H172.7V549.6H173.7V549.4H174.2V550.5ZM174.7 550.5H174.7V549.6H176.2V549.5H176.7V549.6H178.2V549.5H178.7V550.5ZM179.7 550.5H179.7V549.6H180.7V550.5ZM181.2 550.5H181.2V549.6H181.7V550.5ZM182.2 550.5H182.2V549.6H183.2V549.2H183.7V549.6H185.2V550.5ZM185.7 550.5H185.7V549.4H186.2V550.5ZM187.2 550.5H187.2V549.6H187.7V549.5H188.2V550.5ZM190.2 550.5H190.2V549.5H190.7V549.6H191.2V550.5ZM192.7 550.5H192.7V549.6H193.7V549.4H194.2V549.6H195.7V550.5ZM196.7 550.5H196.7V549.6H197.2V549.4H197.7V549.6H199.7V549.4H200.2V548.8H200.7V550.5ZM201.7 550.5H201.7V549.6H202.7V550.5ZM203.7 550.5H203.7V549.1H204.2V550.5ZM205.2 550.5H205.2V549.6H205.7V548.9H206.2V550.5ZM208.2 550.5H208.2V549.6H208.7V548.8H209.2V549.6H210.2V549.4H210.7V548.5H211.2V549.2H211.7V549.0H212.2V548.6H212.7V549.4H213.2V549.3H213.7V549.5H214.2V548.8H214.7V549.5H215.2V549.3H215.7V548.5H216.2V548.0H216.7V548.8H217.2V549.5H217.7V548.7H218.7V549.5H219.2V549.1H219.7V549.3H220.2V548.6H220.7V549.2H221.2V549.0H221.7V549.3H222.2V548.8H222.7V549.4H223.2V549.5H223.7V549.0H224.2V549.5H224.7V548.6H225.7V549.4H226.2V550.5Z" fill="#d41f26"/>
<text x="7.30" y="555.90" font-size="4.6" fill="#333" stroke="#333" stroke-width="0.12" textLength="10.60" lengthAdjust="spacingAndGlyphs">[0-12]</text>
<text x="7.30" y="564.80" font-size="8.7" fill="#111" textLength="36.90" lengthAdjust="spacingAndGlyphs" stroke="#111" stroke-width="0.18">WT_ATAC</text>
<path d="M6.6 574.1H6.6V572.6H7.1V573.2H7.6V572.6H8.1V573.2H9.1V573.1H9.6V572.3H10.1V572.6H10.6V573.2H13.6V572.6H14.1V573.2H15.1V572.3H15.6V573.0H16.1V573.2H19.6V573.1H20.1V572.7H20.6V573.2H21.1V573.1H21.6V573.2H23.1V572.8H23.6V573.2H25.1V572.4H25.6V572.9H26.1V573.2H26.6V572.7H27.1V573.2H28.6V573.0H29.1V572.5H29.6V573.0H30.1V573.2H33.6V573.0H34.6V573.2H37.1V573.1H37.6V573.2H42.6V572.9H43.1V573.2H44.1V572.3H44.6V573.2H45.6V572.9H46.1V572.7H46.6V573.2H54.6V572.5H55.1V573.2H57.6V572.6H58.1V573.2H61.6V573.1H62.1V573.2H63.1V572.7H63.6V573.2H64.2V572.9H64.7V573.1H66.2V573.0H66.7V573.2H68.2V572.4H68.7V573.0H69.7V572.5H70.2V573.2H70.7V572.8H71.2V572.9H71.7V573.2H75.7V572.8H76.2V573.2H79.2V573.1H79.7V573.2H80.7V572.8H81.2V573.2H82.7V573.1H83.2V573.2H85.7V572.3H86.2V573.2H88.7V572.9H89.2V572.8H89.7V573.2H90.2V572.6H90.7V573.2H91.2V572.9H91.7V572.4H92.2V573.2H92.7V573.1H93.2V572.3H93.7V572.8H94.2V573.2H96.2V572.6H96.7V573.2H98.2V572.9H98.7V573.2H100.7V573.1H101.2V573.2H102.7V573.1H103.2V566.4H104.2V562.4H104.7V553.9H105.7V559.8H107.2V565.4H107.7V571.9H108.2V573.0H108.7V569.4H109.7V572.7H110.2V571.8H110.7V572.6H111.2V572.4H111.7V570.4H112.7V572.3H113.2V572.9H113.7V572.8H114.2V573.0H114.7V572.3H115.2V573.1H115.7V568.4H116.7V563.4H117.7V572.8H118.2V558.1H119.2V573.0H119.7V569.4H120.7V573.1H121.2V572.7H122.7V572.9H123.2V572.5H123.7V572.7H124.2V571.8H124.7V572.3H125.2V573.2H126.2V572.8H126.7V573.2H127.2V573.1H127.7V573.2H129.2V572.5H129.7V573.2H134.2V573.1H135.2V573.2H136.7V573.0H137.2V573.2H139.2V573.1H139.7V573.0H140.2V573.2H141.2V573.1H142.7V573.2H143.2V572.4H143.7V573.2H146.7V572.7H147.7V573.2H148.2V573.1H149.2V568.0H150.7V573.2H151.7V572.7H152.2V573.2H152.7V573.1H153.2V573.2H154.2V564.6H155.2V573.2H155.7V573.1H156.2V573.2H157.2V572.9H157.7V573.2H159.2V573.1H159.7V573.2H161.2V573.1H161.7V573.0H162.2V573.1H162.7V573.2H163.7V573.1H164.2V573.2H164.7V572.9H165.2V573.2H166.2V573.1H166.7V572.9H167.2V573.2H168.7V573.1H169.2V573.2H169.7V571.4H170.7V573.2H174.2V573.1H174.7V573.2H175.2V572.6H175.7V573.2H176.7V573.1H177.7V570.9H178.7V573.1H179.2V573.2H179.7V573.1H180.2V573.0H181.2V561.4H182.2V573.2H187.7V572.6H188.2V573.2H188.7V571.4H189.7V573.2H190.2V573.1H190.7V573.2H191.7V573.1H192.2V573.0H192.7V573.2H193.7V569.4H194.7V573.2H195.7V572.8H196.2V561.4H197.2V572.9H197.7V572.7H198.2V573.2H199.2V566.4H200.7V570.4H201.7V573.2H204.7V572.6H205.2V573.2H205.7V572.3H206.2V572.9H206.7V573.2H208.2V573.1H208.7V572.9H209.2V573.2H210.2V573.0H210.7V572.3H211.2V573.2H213.2V572.5H213.7V573.2H214.2V573.1H214.7V572.7H215.2V573.2H215.7V572.6H216.2V573.2H219.2V572.9H219.7V573.2H220.2V573.0H220.7V573.2H221.2V573.1H221.7V573.2H226.2V574.1Z" fill="#4d3f9e"/>
<text x="7.30" y="579.30" font-size="4.6" fill="#333" stroke="#333" stroke-width="0.12" textLength="10.60" lengthAdjust="spacingAndGlyphs">[0-12]</text>
<text x="7.30" y="588.00" font-size="8.7" fill="#111" textLength="38.80" lengthAdjust="spacingAndGlyphs" stroke="#111" stroke-width="0.18">G1s_ATAC</text>
<path d="M6.6 597.9H6.6V596.4H7.1V596.5H7.6V597.0H9.1V596.9H9.6V597.9ZM11.6 597.9H11.6V597.0H13.6V597.9ZM14.6 597.9H14.6V597.0H15.1V597.9ZM16.6 597.9H16.6V597.0H17.6V596.8H18.1V596.6H18.6V597.9ZM20.6 597.9H20.6V597.0H21.1V596.6H21.6V596.9H22.1V597.9ZM24.1 597.9H24.1V597.0H25.6V597.9ZM27.6 597.9H27.6V597.0H28.6V596.3H29.1V596.6H29.6V597.0H30.6V597.9ZM31.6 597.9H31.6V597.0H33.6V596.1H34.1V597.9ZM35.6 597.9H35.6V597.0H36.6V597.9ZM38.1 597.9H38.1V597.0H39.1V596.5H39.6V596.4H40.1V597.0H40.6V596.2H41.1V597.9ZM42.1 597.9H42.1V596.3H42.6V596.1H43.1V597.0H44.1V596.9H44.6V597.0H45.1V597.9ZM46.6 597.9H46.6V597.0H47.6V596.9H48.1V597.0H48.6V596.1H49.1V597.0H50.1V597.9ZM51.1 597.9H51.1V597.0H51.6V597.9ZM53.6 597.9H53.6V597.0H54.1V596.5H54.6V596.7H55.1V597.0H56.1V596.9H56.6V597.9ZM57.6 597.9H57.6V597.0H58.1V597.9ZM58.6 597.9H58.6V596.7H59.1V596.9H59.6V596.7H60.1V597.0H60.6V596.9H61.1V597.9ZM62.1 597.9H62.1V597.0H63.6V596.9H64.2V596.7H64.7V597.0H65.7V596.9H66.2V597.9ZM67.7 597.9H67.7V597.0H68.7V597.9ZM70.2 597.9H70.2V597.0H71.7V597.9ZM73.7 597.9H73.7V597.0H77.2V597.9ZM78.7 597.9H78.7V596.6H79.2V597.0H79.7V596.9H80.2V597.0H80.7V596.5H81.2V597.9ZM82.7 597.9H82.7V596.8H83.2V596.7H83.7V597.0H84.2V596.7H84.7V597.0H85.2V596.8H85.7V597.9ZM87.7 597.9H87.7V597.0H88.2V597.9ZM89.2 597.9H89.2V597.0H89.7V596.6H90.2V596.9H90.7V597.0H91.2V596.2H91.7V597.9ZM92.7 597.9H92.7V597.0H94.7V596.8H95.2V597.9ZM95.7 597.9H95.7V596.3H96.2V597.0H97.2V596.6H97.7V596.4H98.2V597.0H99.2V597.9ZM100.7 597.9H100.7V597.0H101.7V597.9ZM103.2 597.9H103.2V596.9H103.7V590.4H104.7V578.8H105.7V595.4H106.2V586.6H107.2V591.4H108.2V596.8H108.7V596.9H109.2V596.4H109.7V596.8H110.2V596.7H111.2V596.9H111.7V596.2H112.2V596.5H112.7V596.4H113.2V593.4H114.7V596.7H115.2V596.5H116.2V596.9H116.7V596.5H117.7V596.9H118.2V581.1H119.2V596.8H119.7V596.9H120.2V596.7H120.7V596.5H121.2V596.9H122.2V596.5H122.7V596.4H123.2V596.5H123.7V596.7H124.2V596.8H124.7V596.5H125.2V597.0H126.2V597.9ZM127.2 597.9H127.2V597.0H128.2V597.9ZM130.2 597.9H130.2V596.9H130.7V597.9ZM131.7 597.9H131.7V596.6H132.2V597.0H132.7V596.7H133.2V596.5H133.7V597.0H134.2V596.1H134.7V597.9ZM135.7 597.9H135.7V597.0H136.2V596.8H136.7V596.5H137.2V597.0H137.7V596.9H138.2V597.0H139.7V597.9ZM140.2 597.9H140.2V597.0H140.7V596.6H141.2V597.0H144.2V597.9ZM146.2 597.9H146.2V597.0H146.7V596.9H147.2V597.0H147.7V596.1H148.2V597.0H148.7V596.9H149.2V594.1H150.7V597.9ZM151.2 597.9H151.2V597.0H152.7V596.3H153.2V597.9ZM154.2 597.9H154.2V589.9H155.2V597.0H156.2V596.5H156.7V597.0H157.7V596.7H158.2V597.9ZM159.7 597.9H159.7V597.0H160.2V596.8H160.7V596.1H161.2V597.0H161.7V597.9ZM163.2 597.9H163.2V597.0H164.2V596.9H164.7V597.0H165.2V597.9ZM165.7 597.9H165.7V597.0H167.7V596.7H168.2V597.0H168.7V597.9ZM169.7 597.9H169.7V597.0H171.7V597.9ZM173.7 597.9H173.7V597.0H174.2V596.4H174.7V597.9ZM175.2 597.9H175.2V597.0H176.2V597.9ZM177.7 597.9H177.7V596.3H178.2V597.0H179.2V597.9ZM180.2 597.9H180.2V596.9H181.2V587.6H182.2V597.9ZM184.2 597.9H184.2V597.0H185.7V597.9ZM186.7 597.9H186.7V596.5H187.2V597.0H187.7V596.3H188.2V597.0H188.7V596.9H189.2V597.0H189.7V596.8H190.2V597.9ZM191.7 597.9H191.7V597.0H193.2V597.9ZM194.2 597.9H194.2V592.4H195.2V597.0H196.2V588.1H197.2V597.0H198.2V597.9ZM199.2 597.9H199.2V588.1H200.7V597.0H202.2V597.9ZM203.2 597.9H203.2V597.0H205.2V596.9H205.7V597.9ZM207.7 597.9H207.7V597.0H209.7V596.9H210.2V597.0H211.2V597.9ZM212.2 597.9H212.2V596.9H213.2V597.0H214.7V597.9ZM215.7 597.9H215.7V597.0H217.2V596.7H217.7V597.9ZM218.7 597.9H218.7V597.0H219.7V596.9H220.2V596.7H220.7V597.0H221.2V596.4H221.7V597.9ZM223.7 597.9H223.7V597.0H225.2V597.9ZM225.7 597.9H225.7V596.4H226.2V597.9Z" fill="#d41f26"/>
<text x="7.60" y="610.00" font-size="8.6" fill="#111" stroke="#111" stroke-width="0.12" font-style="italic" textLength="21.80" lengthAdjust="spacingAndGlyphs">Runx1</text>
<path d="M35.30 604.50H200.50" stroke="#1f2f8f" stroke-width="0.6" fill="none"/>
<path d="M35.30 604.50h3.6" stroke="#1f2f8f" stroke-width="1.7"/>
<path d="M44.40 603.40v2.2" stroke="#1f2f8f" stroke-width="0.9"/>
<path d="M84.40 603.40v2.2" stroke="#1f2f8f" stroke-width="0.9"/>
<path d="M99.20 603.40v2.2" stroke="#1f2f8f" stroke-width="0.9"/>
<path d="M103.00 603.40v2.2" stroke="#1f2f8f" stroke-width="0.9"/>
<path d="M42.40 603.80L41.50 604.50L42.40 605.20M48.50 603.80L47.60 604.50L48.50 605.20M54.60 603.80L53.70 604.50L54.60 605.20M60.70 603.80L59.80 604.50L60.70 605.20M66.80 603.80L65.90 604.50L66.80 605.20M72.90 603.80L72.00 604.50L72.90 605.20M79.00 603.80L78.10 604.50L79.00 605.20M85.10 603.80L84.20 604.50L85.10 605.20M91.20 603.80L90.30 604.50L91.20 605.20M97.30 603.80L96.40 604.50L97.30 605.20M103.40 603.80L102.50 604.50L103.40 605.20M109.50 603.80L108.60 604.50L109.50 605.20M115.60 603.80L114.70 604.50L115.60 605.20M121.70 603.80L120.80 604.50L121.70 605.20M127.80 603.80L126.90 604.50L127.80 605.20M133.90 603.80L133.00 604.50L133.90 605.20M140.00 603.80L139.10 604.50L140.00 605.20M146.10 603.80L145.20 604.50L146.10 605.20M152.20 603.80L151.30 604.50L152.20 605.20M158.30 603.80L157.40 604.50L158.30 605.20M164.40 603.80L163.50 604.50L164.40 605.20M170.50 603.80L169.60 604.50L170.50 605.20M176.60 603.80L175.70 604.50L176.60 605.20M182.70 603.80L181.80 604.50L182.70 605.20M188.80 603.80L187.90 604.50L188.80 605.20M194.90 603.80L194.00 604.50L194.90 605.20" stroke="#1f2f8f" stroke-width="0.5" fill="none"/>
<path d="M200.50 603.40v2.2" stroke="#1f2f8f" stroke-width="0.8"/>
<path d="M35.30 611.00H105.20" stroke="#1f2f8f" stroke-width="0.6" fill="none"/>
<path d="M35.30 611.00h3.6" stroke="#1f2f8f" stroke-width="1.7"/>
<path d="M44.40 609.90v2.2" stroke="#1f2f8f" stroke-width="0.9"/>
<path d="M66.30 609.90v2.2" stroke="#1f2f8f" stroke-width="0.9"/>
<path d="M84.40 609.90v2.2" stroke="#1f2f8f" stroke-width="0.9"/>
<path d="M99.20 609.90v2.2" stroke="#1f2f8f" stroke-width="0.9"/>
<path d="M42.40 610.30L41.50 611.00L42.40 611.70M48.50 610.30L47.60 611.00L48.50 611.70M54.60 610.30L53.70 611.00L54.60 611.70M60.70 610.30L59.80 611.00L60.70 611.70M66.80 610.30L65.90 611.00L66.80 611.70M72.90 610.30L72.00 611.00L72.90 611.70M79.00 610.30L78.10 611.00L79.00 611.70M85.10 610.30L84.20 611.00L85.10 611.70M91.20 610.30L90.30 611.00L91.20 611.70M97.30 610.30L96.40 611.00L97.30 611.70M103.40 610.30L102.50 611.00L103.40 611.70" stroke="#1f2f8f" stroke-width="0.5" fill="none"/>
<path d="M105.20 609.90v2.2" stroke="#1f2f8f" stroke-width="0.8"/>
<rect x="241.50" y="457.20" width="219.30" height="22.30" fill="#f8f8f8"/>
<rect x="241.50" y="480.20" width="219.30" height="23.50" fill="#f8f8f8"/>
<rect x="241.50" y="504.40" width="219.30" height="22.60" fill="#f8f8f8"/>
<rect x="241.50" y="527.70" width="219.30" height="23.00" fill="#f8f8f8"/>
<rect x="241.50" y="551.40" width="219.30" height="22.90" fill="#f8f8f8"/>
<rect x="241.50" y="575.00" width="219.30" height="23.10" fill="#f8f8f8"/>
<rect x="241.50" y="598.80" width="219.30" height="15.00" fill="#f8f8f8"/>
<text x="242.20" y="461.60" font-size="4.6" fill="#333" stroke="#333" stroke-width="0.12" textLength="10.60" lengthAdjust="spacingAndGlyphs">[0-40]</text>
<text x="242.20" y="469.50" font-size="8.7" fill="#111" textLength="41.60" lengthAdjust="spacingAndGlyphs" stroke="#111" stroke-width="0.18">WT_GATA1</text>
<path d="M241.6 479.2H241.6V478.3H242.1V478.4H243.6V478.3H244.6V478.4H245.1V478.2H245.6V478.4H246.1V478.1H247.1V478.3H248.1V478.4H250.1V478.3H250.6V478.4H251.6V477.9H252.1V478.3H252.6V478.4H253.6V478.3H254.1V478.2H255.1V478.4H258.1V478.3H258.6V478.4H259.6V478.3H260.1V478.4H261.1V477.9H261.6V478.4H263.1V478.3H263.6V478.4H264.1V478.1H264.6V478.0H265.1V478.4H265.6V478.3H266.1V478.4H266.6V478.3H267.1V478.4H268.6V477.9H269.1V478.3H270.6V478.4H271.6V478.3H272.1V478.4H274.6V478.3H275.1V477.9H275.6V478.4H276.6V478.1H277.1V478.4H279.1V478.2H279.6V478.4H288.6V478.1H289.1V478.4H293.1V478.1H293.6V478.2H294.1V478.4H294.6V478.1H295.1V478.4H296.6V478.3H297.1V478.4H298.1V478.3H298.6V478.4H301.6V478.3H302.1V478.4H305.1V478.2H305.6V478.4H307.6V478.3H308.1V478.4H308.6V478.3H309.1V478.4H312.6V478.3H313.1V478.4H313.6V478.1H314.1V478.4H315.6V478.3H316.1V478.4H316.6V478.0H317.1V478.3H317.6V478.2H318.1V478.4H321.1V478.2H321.6V478.3H322.1V478.4H323.1V478.3H323.6V478.4H327.6V477.9H328.1V478.4H328.6V478.2H329.1V478.4H333.6V478.1H334.1V478.4H335.6V477.9H336.1V478.4H338.6V474.9H339.6V478.4H340.1V465.1H341.6V478.4H342.1V478.0H343.1V478.3H343.6V478.4H344.1V478.3H344.6V478.4H348.1V478.3H348.6V478.4H349.1V478.1H349.6V478.4H351.1V474.9H352.1V478.4H353.6V458.6H354.6V478.4H355.6V478.2H356.1V478.4H357.1V477.9H357.6V478.4H360.6V478.2H361.1V478.4H362.6V478.2H363.1V478.3H363.6V478.4H365.6V478.2H366.1V478.4H366.6V478.0H367.1V478.3H367.6V478.1H368.1V478.4H369.6V478.1H370.1V478.2H370.6V478.3H371.1V478.4H373.6V478.3H374.1V478.4H377.1V478.1H377.6V478.4H380.1V477.9H380.6V478.4H381.1V478.3H381.6V478.4H382.1V478.3H382.6V478.4H384.1V478.3H384.6V478.4H385.1V478.3H385.6V478.4H387.1V478.2H387.6V478.4H389.1V478.3H389.6V470.7H390.6V478.4H391.6V478.3H392.1V478.0H392.6V478.4H393.6V478.3H394.1V478.4H398.1V478.1H398.6V478.4H399.1V478.2H399.6V478.4H400.6V478.3H401.1V478.4H401.6V478.0H402.1V478.4H406.6V477.9H407.1V478.4H412.6V478.3H413.1V478.4H413.6V478.3H414.1V478.4H415.1V477.9H415.6V478.4H416.6V473.9H417.6V478.4H421.1V478.2H421.6V478.4H422.1V478.3H423.1V478.4H423.6V478.3H424.1V477.4H425.6V478.4H428.1V478.2H428.6V478.4H429.1V477.9H429.6V478.2H430.6V478.4H431.1V477.9H431.6V478.4H432.1V458.6H433.1V478.4H433.6V471.6H434.6V478.1H435.1V478.3H436.1V478.1H436.6V478.4H438.1V477.9H438.6V478.4H439.1V477.9H439.6V478.4H441.1V478.2H441.6V478.4H444.6V478.2H445.1V478.4H445.6V478.3H446.1V478.4H446.6V478.3H447.1V478.4H448.1V478.2H448.6V478.4H451.6V478.3H452.1V478.4H454.1V478.1H454.6V478.4H456.6V478.3H457.1V478.4H458.6V478.3H459.6V478.4H460.1V478.2H460.6V479.2Z" fill="#2e6a5a"/>
<text x="242.20" y="484.90" font-size="4.6" fill="#333" stroke="#333" stroke-width="0.12" textLength="10.60" lengthAdjust="spacingAndGlyphs">[0-40]</text>
<text x="242.20" y="492.80" font-size="8.7" fill="#111" textLength="47.00" lengthAdjust="spacingAndGlyphs" stroke="#111" stroke-width="0.18">G1s_GATA1s</text>
<path d="M241.6 503.5H241.6V502.6H242.6V502.4H243.1V502.6H244.1V502.3H244.6V502.2H245.1V502.5H245.6V502.6H246.6V502.4H247.1V502.5H247.6V502.6H249.6V502.0H250.1V502.6H250.6V502.2H251.1V502.6H251.6V502.5H252.1V502.6H253.1V502.5H253.6V502.3H254.1V502.6H255.6V502.5H256.1V502.6H257.6V502.4H258.1V502.6H259.1V501.9H259.6V502.6H260.1V502.5H260.6V502.6H261.1V501.9H261.6V502.6H263.1V502.5H263.6V502.2H264.1V502.6H264.6V502.0H265.1V502.6H265.6V502.4H266.1V502.6H273.6V502.2H274.1V502.6H277.6V502.5H278.1V502.6H278.6V493.8H279.6V502.6H280.6V502.4H281.1V502.6H282.1V502.4H282.6V502.6H283.6V502.5H284.1V502.6H287.1V502.4H287.6V502.6H288.1V502.2H288.6V502.6H289.1V502.5H289.6V502.6H290.1V502.5H291.1V502.6H291.6V502.0H292.1V502.6H293.1V502.4H293.6V502.6H294.6V502.4H295.1V502.6H296.1V502.3H296.6V502.6H303.1V502.5H303.6V502.6H304.1V502.5H304.6V502.6H305.1V501.9H305.6V502.6H308.1V502.3H308.6V502.6H311.1V502.4H311.6V502.6H313.6V502.5H314.1V501.9H314.6V502.6H315.1V502.1H315.6V502.6H318.1V502.0H318.6V502.6H319.1V502.0H319.6V502.5H320.6V502.2H321.1V502.5H322.1V502.6H323.1V502.2H323.6V502.6H330.1V502.0H330.6V502.6H335.6V502.5H337.6V502.6H338.1V497.8H339.1V502.6H340.1V484.7H341.6V502.6H342.1V502.1H342.6V502.6H344.1V502.5H344.6V502.6H347.6V502.0H348.1V502.6H349.1V502.5H349.6V502.6H351.1V492.9H352.1V502.6H353.6V482.4H354.6V502.6H355.6V502.4H356.1V502.6H356.6V502.3H357.1V502.6H358.1V502.4H358.6V502.2H359.1V502.6H359.6V502.3H360.1V502.6H364.6V502.4H365.1V502.5H365.6V502.6H367.1V502.5H367.6V502.6H369.6V502.2H370.1V502.5H370.6V502.6H372.1V502.4H372.6V502.1H373.1V502.5H373.6V502.6H379.6V502.4H380.1V502.6H383.6V502.0H384.1V502.6H386.1V502.1H386.6V502.6H387.6V502.4H388.1V502.5H389.6V492.2H390.6V502.6H392.1V502.5H392.6V502.6H395.1V502.0H395.6V502.6H397.1V502.4H397.6V502.6H398.1V502.3H398.6V502.1H399.1V502.6H400.6V502.4H401.1V502.6H402.1V502.0H402.6V502.6H407.1V502.1H407.6V502.6H409.1V502.4H409.6V502.6H413.6V502.5H414.6V502.6H415.1V502.3H415.6V501.9H416.1V502.6H416.6V491.2H417.6V502.6H418.1V502.4H418.6V502.6H419.1V502.3H419.6V502.6H421.6V502.2H422.1V502.6H422.6V502.5H423.1V502.6H424.1V502.4H424.6V502.6H428.1V502.0H428.6V502.6H429.6V502.5H430.1V498.8H431.1V502.6H431.6V502.5H432.1V483.1H433.1V502.6H433.6V497.8H434.6V502.6H437.1V501.9H437.6V502.6H439.1V502.5H440.1V502.6H446.1V502.4H446.6V502.6H447.1V502.5H447.6V502.6H448.1V502.3H448.6V502.6H451.6V501.9H452.1V502.6H453.6V502.3H454.1V502.5H454.6V502.6H455.1V502.5H455.6V502.6H457.1V502.5H457.6V502.6H459.6V501.9H460.1V502.6H460.6V503.5Z" fill="#2b3892"/>
<text x="242.20" y="508.80" font-size="4.6" fill="#333" stroke="#333" stroke-width="0.12" textLength="10.60" lengthAdjust="spacingAndGlyphs">[0-30]</text>
<text x="242.20" y="517.10" font-size="8.7" fill="#111" textLength="56.90" lengthAdjust="spacingAndGlyphs" stroke="#111" stroke-width="0.18">WT_H3K27me3</text>
<path d="M241.6 526.8H241.6V526.0H242.1V526.8ZM243.6 526.8H243.6V526.0H244.6V525.9H245.1V526.8ZM247.1 526.8H247.1V526.0H247.6V526.8ZM248.1 526.8H248.1V526.0H248.6V526.8ZM249.1 526.8H249.1V526.0H250.6V526.8ZM251.1 526.8H251.1V526.0H252.1V526.8ZM252.6 526.8H252.6V525.9H253.1V526.8ZM254.1 526.8H254.1V526.0H255.6V525.9H256.1V526.8ZM258.6 526.8H258.6V526.0H259.1V526.8ZM261.1 526.8H261.1V526.0H262.6V525.8H263.1V526.8ZM265.1 526.8H265.1V526.0H267.1V526.8ZM268.6 526.8H268.6V526.0H270.6V526.8ZM272.6 526.8H272.6V526.0H273.1V526.8ZM275.1 526.8H275.1V526.0H276.1V526.8ZM278.1 526.8H278.1V525.8H278.6V526.0H279.6V526.8ZM280.6 526.8H280.6V526.0H281.6V526.8ZM282.6 526.8H282.6V526.0H283.6V526.8ZM284.1 526.8H284.1V526.0H284.6V525.9H285.1V526.0H286.1V526.8ZM288.1 526.8H288.1V526.0H288.6V525.8H289.6V526.0H290.1V526.8ZM291.6 526.8H291.6V526.0H293.1V526.8ZM294.6 526.8H294.6V526.0H295.1V526.8ZM296.6 526.8H296.6V526.0H297.6V526.8ZM298.1 526.8H298.1V526.0H298.6V526.8ZM300.1 526.8H300.1V526.0H300.6V526.8ZM301.6 526.8H301.6V526.0H303.1V526.8ZM304.1 526.8H304.1V526.0H304.6V526.8ZM305.6 526.8H305.6V526.0H306.1V526.8ZM306.6 526.8H306.6V525.8H307.1V526.8ZM308.1 526.8H308.1V526.0H308.6V526.8ZM310.1 526.8H310.1V526.0H312.1V526.8ZM313.1 526.8H313.1V526.0H314.6V526.8ZM317.1 526.8H317.1V526.0H318.1V525.9H318.6V526.0H319.1V526.8ZM321.1 526.8H321.1V526.0H322.6V526.8ZM323.1 526.8H323.1V526.0H324.1V526.8ZM326.1 526.8H326.1V526.0H328.1V526.8ZM330.1 526.8H330.1V526.0H330.6V526.8ZM332.6 526.8H332.6V526.0H333.6V526.8ZM335.1 526.8H335.1V526.0H335.6V526.8ZM336.6 526.8H336.6V522.9H337.1V522.1H337.6V521.9H338.1V521.6H339.6V521.1H340.1V515.6H341.1V519.9H341.6V511.1H343.1V518.9H343.6V521.4H344.1V522.4H344.6V524.4H345.1V526.8ZM345.6 526.8H345.6V526.0H346.6V526.8ZM348.1 526.8H348.1V526.0H349.1V526.8ZM350.1 526.8H350.1V526.0H350.6V526.8ZM352.1 526.8H352.1V526.0H352.6V526.8ZM354.6 526.8H354.6V526.0H355.1V525.8H356.1V526.8ZM358.6 526.8H358.6V526.0H359.6V526.8ZM362.1 526.8H362.1V526.0H362.6V526.8ZM363.6 526.8H363.6V526.0H364.1V526.8ZM365.6 526.8H365.6V526.0H366.1V526.8ZM367.1 526.8H367.1V526.0H367.6V525.9H368.1V526.8ZM371.1 526.8H371.1V526.0H372.1V526.8ZM374.1 526.8H374.1V526.0H375.1V526.8ZM376.1 526.8H376.1V526.0H377.6V526.8ZM380.1 526.8H380.1V526.0H382.1V526.8ZM383.6 526.8H383.6V526.0H384.1V526.8ZM385.6 526.8H385.6V526.0H386.1V525.9H386.6V526.0H387.6V526.8ZM388.6 526.8H388.6V526.0H390.1V526.8ZM391.1 526.8H391.1V526.0H391.6V526.8ZM392.6 526.8H392.6V525.9H393.1V526.8ZM395.1 526.8H395.1V525.9H395.6V526.8ZM397.6 526.8H397.6V525.8H398.1V526.0H398.6V525.9H399.1V526.8ZM399.6 526.8H399.6V526.0H400.6V525.9H401.1V526.8ZM401.6 526.8H401.6V526.0H402.6V526.8ZM404.1 526.8H404.1V526.0H405.1V526.8ZM406.1 526.8H406.1V526.0H406.6V525.8H407.1V526.8ZM407.6 526.8H407.6V526.0H409.6V526.8ZM410.1 526.8H410.1V526.0H412.1V526.8ZM412.6 526.8H412.6V526.0H413.1V526.8ZM414.6 526.8H414.6V526.0H415.6V526.8ZM416.6 526.8H416.6V526.0H417.1V525.9H417.6V526.0H418.6V526.8ZM422.1 526.8H422.1V526.0H422.6V526.8ZM424.6 526.8H424.6V526.0H425.6V526.8ZM427.6 526.8H427.6V526.0H428.6V526.8ZM429.6 526.8H429.6V526.0H431.6V526.8ZM432.1 526.8H432.1V525.9H432.6V526.0H433.1V526.8ZM434.1 526.8H434.1V526.0H435.1V526.8ZM436.1 526.8H436.1V525.9H436.6V525.6H437.1V525.8H437.6V525.6H438.1V525.9H438.6V525.8H439.1V525.7H439.6V525.5H440.1V525.8H440.6V526.0H441.6V525.9H442.1V525.8H442.6V526.0H443.1V525.7H443.6V525.9H444.1V525.6H444.6V526.0H445.1V525.6H445.6V525.8H446.1V525.6H446.6V525.7H447.1V525.8H447.6V525.9H448.1V525.7H448.6V525.8H449.1V525.6H449.6V526.0H450.1V525.5H450.6V526.0H451.1V525.5H451.6V525.9H452.1V525.8H452.6V526.0H453.1V525.7H453.6V526.0H454.1V525.5H454.6V525.6H455.1V525.9H455.6V526.0H456.6V525.8H457.1V526.0H457.6V525.7H458.1V526.0H458.6V525.8H459.1V526.0H459.6V525.5H460.1V525.7H460.6V526.8Z" fill="#2e6a5a"/>
<text x="242.20" y="532.00" font-size="4.6" fill="#333" stroke="#333" stroke-width="0.12" textLength="10.60" lengthAdjust="spacingAndGlyphs">[0-30]</text>
<text x="242.20" y="540.70" font-size="8.7" fill="#111" textLength="59.30" lengthAdjust="spacingAndGlyphs" stroke="#111" stroke-width="0.18">G1s_H3K27me3</text>
<path d="M241.6 550.5H241.6V549.5H242.1V549.4H242.6V548.5H243.1V548.8H243.6V549.5H244.1V548.4H244.6V549.3H245.1V548.5H245.6V549.4H246.1V549.2H246.6V549.4H247.1V548.4H247.6V549.4H248.1V549.3H248.6V549.5H249.1V548.5H249.6V548.9H250.1V549.4H250.6V549.3H251.1V549.0H251.6V548.8H252.1V548.6H252.6V549.3H253.1V549.1H253.6V549.3H254.1V549.0H254.6V548.5H255.1V549.4H255.6V548.8H256.1V549.1H256.6V549.3H257.1V549.4H257.6V549.2H258.1V549.4H258.6V549.5H259.1V549.4H259.6V548.9H260.1V548.5H260.6V549.1H261.1V549.3H261.6V548.5H262.1V549.5H262.6V548.5H263.1V549.5H263.6V549.2H264.1V548.6H264.6V548.5H265.1V548.8H265.6V548.9H266.1V548.6H266.6V549.1H267.1V548.6H267.6V548.9H268.1V548.6H268.6V548.5H269.1V548.6H269.6V549.2H270.1V548.5H270.6V548.4H271.1V548.8H271.6V549.1H272.1V549.2H272.6V549.5H273.1V549.0H273.6V549.2H274.1V548.4H274.6V549.4H275.1V549.0H275.6V549.6H277.1V549.5H278.1V549.6H278.6V549.5H279.1V549.6H280.1V549.2H280.6V549.6H282.6V549.1H283.1V549.6H284.1V549.4H284.6V549.6H289.1V549.2H289.6V549.0H290.1V548.9H290.6V549.6H291.1V549.3H291.6V549.6H294.1V549.0H294.6V549.3H295.1V549.5H295.6V549.6H302.6V549.5H303.1V549.6H303.6V549.5H304.1V549.6H304.6V549.0H305.1V549.4H305.6V549.6H306.1V549.1H306.6V549.6H308.1V549.0H308.6V549.6H309.1V549.3H310.1V549.6H311.6V549.0H312.1V549.6H313.1V549.1H313.6V549.3H314.1V548.9H314.6V549.4H315.1V549.6H316.1V549.2H316.6V549.6H318.6V549.4H319.1V549.6H320.6V549.4H321.1V549.5H321.6V549.6H322.1V549.5H322.6V549.6H325.1V548.8H325.6V549.6H329.1V548.8H329.6V549.6H331.1V549.5H331.6V548.8H332.1V549.5H332.6V549.6H333.1V549.5H334.1V549.1H334.6V549.6H336.6V548.8H337.1V549.0H337.6V549.6H338.1V549.0H338.6V549.6H340.6V549.5H341.1V546.4H342.1V544.4H343.1V547.4H344.1V549.6H346.1V549.2H346.6V548.8H347.1V549.6H348.1V549.5H348.6V549.6H349.6V549.5H350.1V548.8H350.6V549.6H353.6V549.2H354.1V549.3H354.6V549.6H362.1V549.1H362.6V549.4H363.1V549.6H365.1V548.9H365.6V549.4H366.1V549.6H368.1V549.5H368.6V548.9H369.1V549.5H369.6V549.6H370.1V548.9H370.6V549.5H371.1V549.6H371.6V549.5H372.1V549.6H375.6V549.3H376.1V549.0H376.6V549.5H377.1V549.6H378.1V549.2H378.6V549.5H379.1V549.1H379.6V549.6H381.1V548.8H381.6V549.6H386.1V549.4H386.6V549.2H387.1V549.6H387.6V549.0H388.1V549.6H391.1V549.4H391.6V549.6H393.1V549.5H394.1V549.6H397.1V549.4H397.6V549.0H398.1V549.6H404.6V548.9H405.1V549.6H406.1V548.9H406.6V549.6H408.1V549.2H408.6V548.9H409.1V549.5H409.6V549.6H411.1V549.5H411.6V549.3H412.6V549.6H413.6V549.4H414.6V549.6H415.1V549.2H415.6V549.6H416.1V549.5H416.6V549.6H417.1V549.5H417.6V549.6H418.6V549.5H419.1V549.6H420.1V549.2H420.6V549.6H421.1V549.4H421.6V549.6H422.1V549.3H422.6V549.6H423.1V549.4H424.1V549.3H424.6V549.6H426.1V549.0H426.6V549.6H430.6V549.1H431.1V549.4H431.6V549.6H433.1V548.9H433.6V549.4H434.1V549.5H434.6V548.8H435.1V549.1H435.6V549.6H437.1V548.9H437.6V549.5H438.1V549.2H438.6V549.6H439.6V549.4H440.1V549.6H442.6V549.5H443.1V549.1H443.6V549.4H444.1V549.6H444.6V549.4H445.1V549.6H447.1V549.5H447.6V549.6H449.1V549.5H449.6V549.6H450.6V549.5H451.6V548.5H452.1V547.6H452.6V547.7H453.1V549.0H453.6V548.5H454.1V548.8H454.6V548.1H455.1V549.5H455.6V549.0H456.1V549.5H456.6V548.9H457.1V549.2H457.6V547.3H458.1V549.5H458.6V548.0H459.1V548.2H459.6V548.1H460.1V549.5H460.6V550.5Z" fill="#2b3892"/>
<text x="242.20" y="555.90" font-size="4.6" fill="#333" stroke="#333" stroke-width="0.12" textLength="10.60" lengthAdjust="spacingAndGlyphs">[0-11]</text>
<text x="242.20" y="564.80" font-size="8.7" fill="#111" textLength="36.90" lengthAdjust="spacingAndGlyphs" stroke="#111" stroke-width="0.18">WT_ATAC</text>
<path d="M241.6 574.1H241.6V573.2H244.6V572.7H245.1V573.2H246.1V573.0H246.6V573.2H248.6V573.1H249.1V573.2H250.1V573.0H250.6V573.2H251.6V573.1H252.1V573.2H255.1V573.1H256.1V573.2H261.6V572.9H262.1V573.2H263.6V573.1H264.1V573.2H268.6V573.1H269.1V573.2H270.1V572.7H270.6V573.2H272.1V573.1H272.6V573.2H276.1V572.8H276.6V572.9H277.1V573.2H280.1V573.0H280.6V573.2H281.1V573.0H281.6V573.2H282.1V572.8H282.6V573.2H285.6V573.1H286.1V572.6H287.1V573.2H288.1V572.9H289.1V573.2H291.1V573.1H291.6V573.2H292.1V573.0H292.6V573.2H299.1V572.6H299.6V573.1H300.1V573.2H300.6V572.9H301.1V573.2H302.6V573.0H303.1V573.2H306.6V572.6H307.1V573.2H309.6V573.1H310.1V573.2H314.1V572.7H314.6V573.2H315.1V572.7H315.6V573.2H316.1V573.0H316.6V573.2H317.1V572.9H317.6V573.1H318.1V573.2H328.1V573.1H328.6V572.9H330.1V573.2H330.6V573.1H331.1V573.0H331.6V573.1H332.1V573.2H333.1V573.0H333.6V573.2H338.1V572.6H338.6V572.7H339.1V572.2H339.6V572.8H340.1V563.0H341.6V568.4H342.6V572.6H343.1V572.9H343.6V572.2H344.1V573.2H345.1V573.1H345.6V573.2H346.1V573.1H346.6V573.2H348.6V573.0H349.1V572.9H349.6V573.2H351.6V570.4H353.1V573.2H356.1V572.8H356.6V572.6H357.1V573.2H357.6V572.7H358.1V573.2H359.1V573.1H359.6V572.6H360.1V573.0H360.6V573.2H365.6V572.6H366.1V573.2H366.6V573.1H367.6V573.2H368.6V573.0H369.1V573.2H369.6V572.9H370.1V573.2H372.6V573.1H373.1V572.7H373.6V573.2H377.1V573.1H377.6V573.2H381.1V573.1H381.6V573.2H382.1V573.1H382.6V572.6H383.1V573.1H383.6V573.2H384.1V572.8H384.6V573.2H386.1V572.8H386.6V573.2H387.6V572.6H388.1V573.2H389.6V570.9H390.6V573.2H394.1V573.0H394.6V573.2H397.1V573.1H398.1V573.2H401.1V573.1H401.6V573.2H403.6V573.1H404.1V573.2H404.6V572.8H405.1V573.1H405.6V573.2H407.1V573.1H407.6V573.2H409.1V572.9H409.6V573.2H412.1V572.6H412.6V573.2H413.6V573.0H414.1V573.2H416.1V573.1H416.6V568.5H417.6V573.2H419.1V572.6H419.6V573.2H422.1V573.1H422.6V572.6H423.1V572.8H423.6V573.2H424.1V573.1H424.6V573.2H426.1V573.0H426.6V573.2H427.1V573.1H427.6V573.2H428.1V572.9H428.6V573.2H429.6V572.7H430.6V573.2H432.1V570.1H433.1V573.2H433.6V572.9H434.1V570.1H435.1V573.1H436.1V573.0H436.6V573.2H441.6V573.1H442.1V573.2H443.1V573.0H444.1V573.2H445.1V572.9H445.6V573.2H446.6V573.1H447.1V573.2H449.6V573.1H450.1V573.2H451.6V572.7H452.1V573.2H452.6V572.7H453.1V573.2H456.1V572.6H456.6V572.8H457.1V573.2H459.1V572.7H459.6V573.1H460.1V573.2H460.6V574.1Z" fill="#2e6a5a"/>
<text x="242.20" y="579.30" font-size="4.6" fill="#333" stroke="#333" stroke-width="0.12" textLength="10.60" lengthAdjust="spacingAndGlyphs">[0-11]</text>
<text x="242.20" y="588.00" font-size="8.7" fill="#111" textLength="38.80" lengthAdjust="spacingAndGlyphs" stroke="#111" stroke-width="0.18">G1s_ATAC</text>
<path d="M241.6 597.9H241.6V597.0H244.6V596.9H245.6V596.7H246.1V597.0H246.6V596.6H247.1V597.0H248.1V596.7H248.6V596.9H249.1V596.8H249.6V597.0H250.1V596.9H250.6V597.0H251.1V596.8H251.6V597.0H252.6V596.9H253.1V596.6H253.6V597.0H254.6V596.9H255.1V597.0H255.6V596.9H256.1V597.0H257.1V596.4H257.6V597.0H258.6V596.9H259.1V597.0H260.6V596.8H261.1V596.9H262.1V596.3H262.6V597.0H266.1V596.7H266.6V597.0H269.6V596.9H270.1V596.6H270.6V597.0H271.6V596.8H272.1V597.0H273.1V596.8H273.6V597.0H274.1V596.4H274.6V596.7H275.1V596.3H275.6V597.0H276.1V596.8H276.6V597.0H281.6V596.7H282.1V597.0H284.1V596.9H284.6V597.0H287.1V596.9H287.6V597.0H288.6V596.3H289.1V596.9H289.6V597.0H290.1V596.9H291.1V596.6H291.6V597.0H293.6V596.4H294.1V597.0H294.6V596.8H295.1V596.6H295.6V597.0H296.1V596.9H296.6V596.3H297.1V597.0H300.1V596.3H300.6V597.0H302.6V596.9H303.1V596.8H303.6V597.0H305.1V596.3H305.6V596.4H306.1V596.7H306.6V597.0H308.6V596.4H309.1V597.0H312.6V596.8H313.1V596.7H313.6V597.0H314.1V596.6H314.6V597.0H315.6V596.9H316.1V597.0H317.6V596.5H318.1V597.0H318.6V596.9H319.1V597.0H320.6V596.9H321.1V597.0H323.6V596.3H324.1V597.0H324.6V596.9H325.1V596.8H325.6V597.0H331.1V596.8H331.6V596.6H332.1V596.9H332.6V597.0H333.1V596.9H334.1V596.6H334.6V596.9H335.1V597.0H336.1V596.9H336.6V596.8H337.6V597.0H338.1V595.5H338.6V590.4H339.6V596.8H340.1V577.6H341.6V588.4H342.6V594.9H343.1V596.4H343.6V595.8H344.1V596.9H344.6V597.0H348.1V596.9H349.1V597.0H350.1V596.5H350.6V597.0H351.1V593.4H352.1V597.0H352.6V596.8H353.1V596.3H353.6V587.5H354.6V596.7H355.1V597.0H355.6V596.9H356.1V597.0H357.6V596.7H358.1V597.0H358.6V596.9H359.1V597.0H359.6V596.8H360.1V597.0H362.1V596.9H362.6V597.0H363.1V596.9H363.6V597.0H364.1V596.9H364.6V596.7H365.1V596.9H365.6V597.0H367.1V596.9H368.1V597.0H373.1V596.9H373.6V597.0H376.1V596.9H376.6V596.6H377.1V597.0H378.1V596.8H378.6V596.9H379.1V597.0H382.1V596.3H382.6V597.0H383.1V596.9H383.6V596.6H384.1V596.9H384.6V596.8H385.1V597.0H386.1V596.6H386.6V597.0H389.1V596.9H389.6V594.0H390.6V596.8H391.1V597.0H391.6V596.9H392.1V597.0H394.6V596.7H395.6V597.0H396.1V596.8H396.6V596.6H397.1V597.0H398.1V596.7H398.6V597.0H399.6V596.9H400.1V597.0H403.6V596.8H404.1V597.0H406.1V596.8H406.6V597.0H410.1V596.7H410.6V597.0H411.1V596.8H411.6V596.4H412.1V597.0H415.1V596.6H415.6V597.0H416.6V587.5H417.6V597.0H418.1V596.4H418.6V597.0H419.1V596.7H419.6V597.0H421.1V596.8H421.6V597.0H422.1V596.6H422.6V597.0H423.1V596.5H423.6V597.0H427.1V596.3H427.6V597.0H429.6V596.9H430.6V597.0H432.1V592.4H433.1V597.0H433.6V592.4H434.6V597.0H435.6V596.9H436.1V596.4H436.6V597.0H437.6V596.8H438.1V597.0H438.6V596.5H439.1V597.0H439.6V596.5H440.1V597.0H444.6V596.3H445.1V597.0H446.1V596.9H446.6V597.0H447.1V596.8H447.6V597.0H448.6V596.6H449.6V597.0H452.6V596.9H453.1V597.0H454.1V596.9H455.1V597.0H456.1V596.9H456.6V596.8H457.1V596.9H457.6V597.0H458.1V596.9H458.6V596.5H459.1V597.0H459.6V596.3H460.1V597.0H460.6V597.9Z" fill="#2b3892"/>
<text x="242.50" y="610.00" font-size="8.6" fill="#111" stroke="#111" stroke-width="0.12" font-style="italic" textLength="21.80" lengthAdjust="spacingAndGlyphs">Runx1</text>
<path d="M270.30 604.30H434.60" stroke="#1f2f8f" stroke-width="0.6" fill="none"/>
<path d="M270.30 604.30h3.6" stroke="#1f2f8f" stroke-width="1.7"/>
<path d="M279.30 603.20v2.2" stroke="#1f2f8f" stroke-width="0.9"/>
<path d="M319.30 603.20v2.2" stroke="#1f2f8f" stroke-width="0.9"/>
<path d="M334.00 603.20v2.2" stroke="#1f2f8f" stroke-width="0.9"/>
<path d="M338.00 603.20v2.2" stroke="#1f2f8f" stroke-width="0.9"/>
<path d="M277.40 603.60L276.50 604.30L277.40 605.00M285.90 603.60L285.00 604.30L285.90 605.00M294.40 603.60L293.50 604.30L294.40 605.00M302.90 603.60L302.00 604.30L302.90 605.00M311.40 603.60L310.50 604.30L311.40 605.00M319.90 603.60L319.00 604.30L319.90 605.00M328.40 603.60L327.50 604.30L328.40 605.00M336.90 603.60L336.00 604.30L336.90 605.00M345.40 603.60L344.50 604.30L345.40 605.00M353.90 603.60L353.00 604.30L353.90 605.00M362.40 603.60L361.50 604.30L362.40 605.00M370.90 603.60L370.00 604.30L370.90 605.00M379.40 603.60L378.50 604.30L379.40 605.00M387.90 603.60L387.00 604.30L387.90 605.00M396.40 603.60L395.50 604.30L396.40 605.00M404.90 603.60L404.00 604.30L404.90 605.00M413.40 603.60L412.50 604.30L413.40 605.00M421.90 603.60L421.00 604.30L421.90 605.00M430.40 603.60L429.50 604.30L430.40 605.00" stroke="#1f2f8f" stroke-width="0.5" fill="none"/>
<path d="M434.60 603.20v2.2" stroke="#1f2f8f" stroke-width="0.8"/>
<path d="M270.30 610.90H339.90" stroke="#1f2f8f" stroke-width="0.6" fill="none"/>
<path d="M270.30 610.90h3.6" stroke="#1f2f8f" stroke-width="1.7"/>
<path d="M279.30 609.80v2.2" stroke="#1f2f8f" stroke-width="0.9"/>
<path d="M301.30 609.80v2.2" stroke="#1f2f8f" stroke-width="0.9"/>
<path d="M319.30 609.80v2.2" stroke="#1f2f8f" stroke-width="0.9"/>
<path d="M334.00 609.80v2.2" stroke="#1f2f8f" stroke-width="0.9"/>
<path d="M277.40 610.20L276.50 610.90L277.40 611.60M285.90 610.20L285.00 610.90L285.90 611.60M294.40 610.20L293.50 610.90L294.40 611.60M302.90 610.20L302.00 610.90L302.90 611.60M311.40 610.20L310.50 610.90L311.40 611.60M319.90 610.20L319.00 610.90L319.90 611.60M328.40 610.20L327.50 610.90L328.40 611.60M336.90 610.20L336.00 610.90L336.90 611.60" stroke="#1f2f8f" stroke-width="0.5" fill="none"/>
<path d="M339.90 609.80v2.2" stroke="#1f2f8f" stroke-width="0.8"/>
<text x="113.50" y="601.60" font-size="2.4" fill="#555" stroke="#555" stroke-width="0.12">Runx1</text>
<text x="113.50" y="608.60" font-size="2.4" fill="#555" stroke="#555" stroke-width="0.12">Runx1</text>
<text x="348.50" y="601.40" font-size="2.4" fill="#555" stroke="#555" stroke-width="0.12">Runx1</text>
<text x="348.50" y="608.40" font-size="2.4" fill="#555" stroke="#555" stroke-width="0.12">Runx1</text>
<text x="339.40" y="440.06" font-size="8.0" text-anchor="middle" fill="#333" stroke="#333" stroke-width="0.12" textLength="25.40" lengthAdjust="spacingAndGlyphs">proximal</text>
<text x="339.60" y="447.56" font-size="8.0" text-anchor="middle" fill="#333" stroke="#333" stroke-width="0.12" textLength="27.00" lengthAdjust="spacingAndGlyphs">promoter</text>
<rect x="329.5" y="451.6" width="19.8" height="163.9" rx="2" ry="2" fill="none" stroke="#e07868" stroke-width="1" stroke-dasharray="3.2 1.8"/>
</svg>
</body></html>
